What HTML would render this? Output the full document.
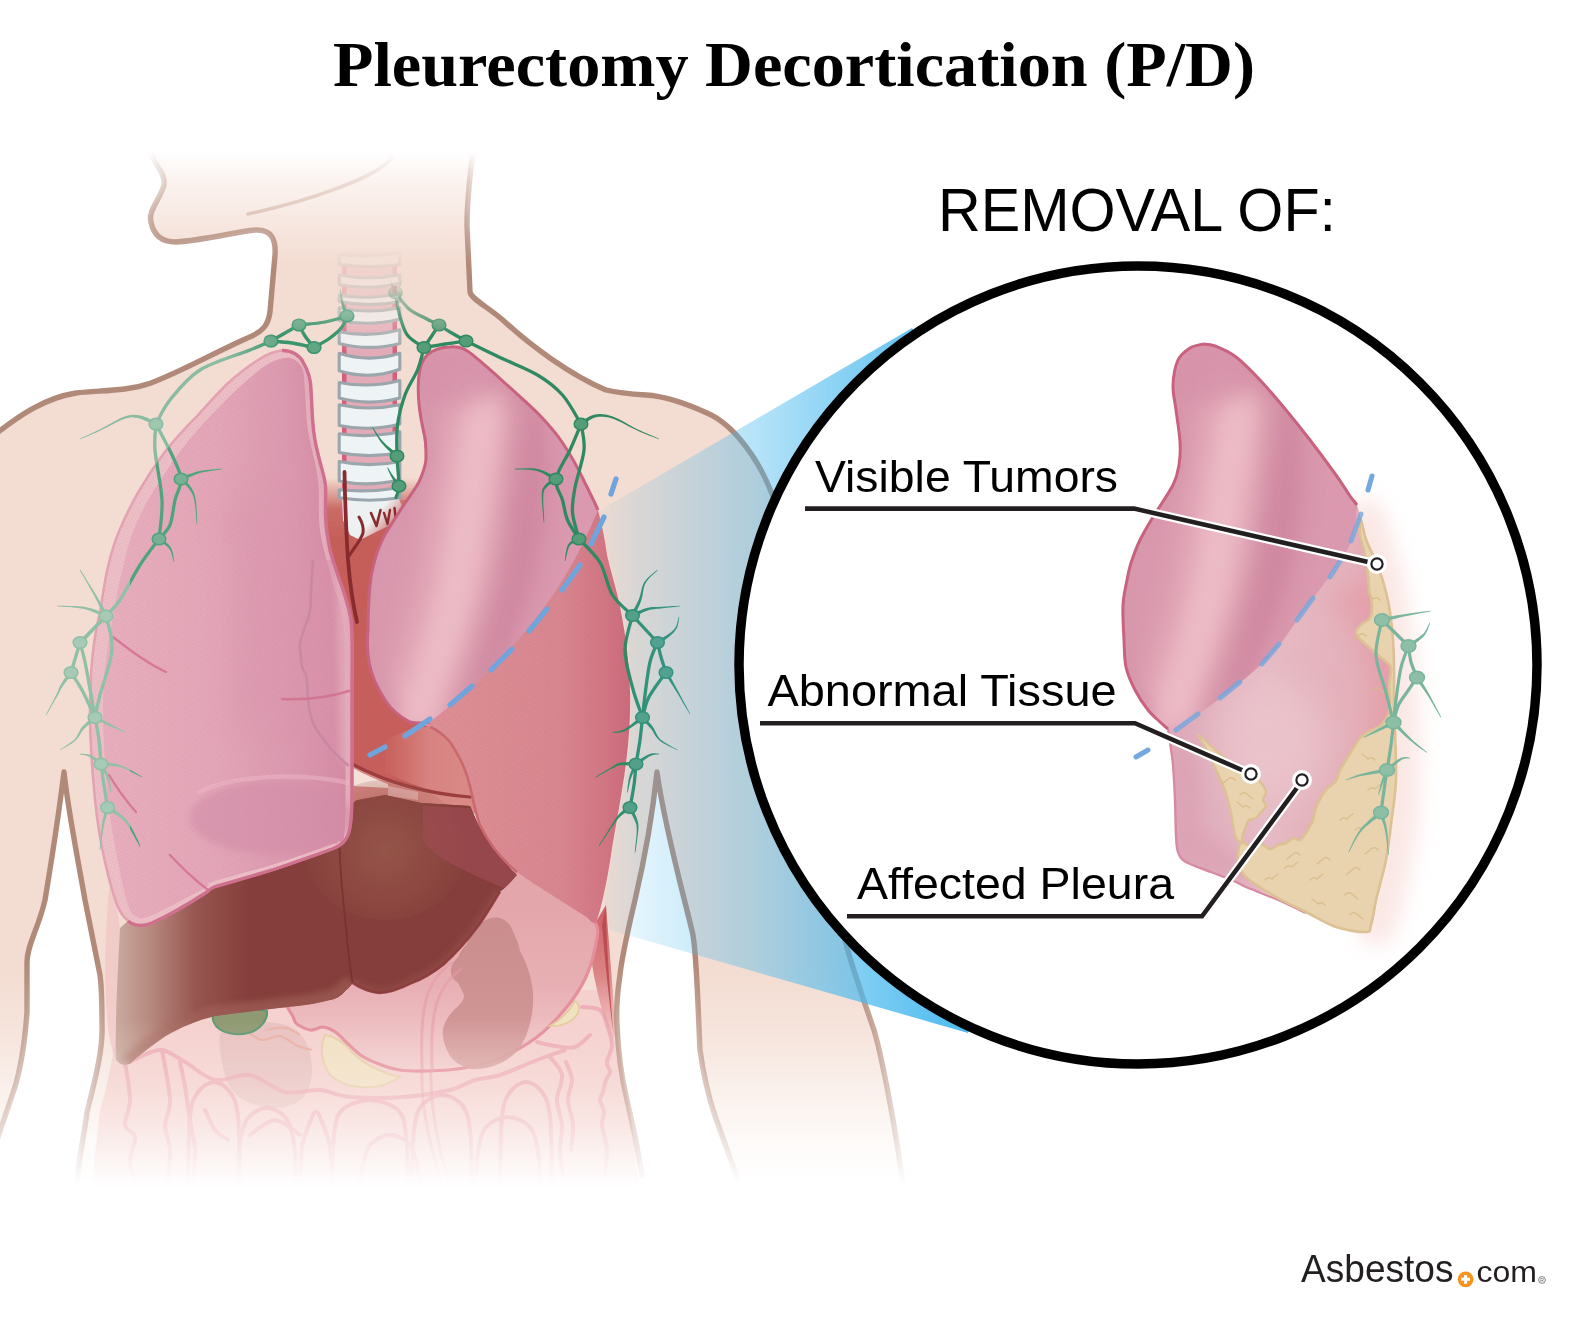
<!DOCTYPE html>
<html>
<head>
<meta charset="utf-8">
<title>Pleurectomy Decortication (P/D)</title>
<style>
html,body{margin:0;padding:0;background:#fff;}
body{width:1585px;height:1334px;overflow:hidden;position:relative;font-family:"Liberation Sans",sans-serif;}
svg{position:absolute;left:0;top:0;display:block;}
text{font-family:"Liberation Sans",sans-serif;}
.ttl{font-family:"Liberation Serif",serif;font-weight:bold;}
</style>
</head>
<body>
<svg width="1585" height="1334" viewBox="0 0 1585 1334">
<defs>
  <!-- body fade mask -->
  <linearGradient id="fadeG" x1="0" y1="0" x2="0" y2="1334" gradientUnits="userSpaceOnUse">
    <stop offset="0.114" stop-color="#000"/>
    <stop offset="0.135" stop-color="#555"/>
    <stop offset="0.200" stop-color="#fff"/>
    <stop offset="0.725" stop-color="#fff"/>
    <stop offset="0.775" stop-color="#bdbdbd"/>
    <stop offset="0.820" stop-color="#666"/>
    <stop offset="0.860" stop-color="#1e1e1e"/>
    <stop offset="0.886" stop-color="#000"/>
  </linearGradient>
  <mask id="fade" maskUnits="userSpaceOnUse" x="0" y="0" width="1585" height="1334">
    <rect x="0" y="0" width="1585" height="1334" fill="url(#fadeG)"/>
  </mask>
  <linearGradient id="fanG" x1="592" y1="0" x2="960" y2="0" gradientUnits="userSpaceOnUse">
    <stop offset="0" stop-color="#49b9ee" stop-opacity="0.02"/>
    <stop offset="0.13" stop-color="#49b9ee" stop-opacity="0.16"/>
    <stop offset="0.45" stop-color="#49b9ee" stop-opacity="0.41"/>
    <stop offset="0.75" stop-color="#49b9ee" stop-opacity="0.72"/>
    <stop offset="1" stop-color="#49b9ee" stop-opacity="0.96"/>
  </linearGradient>
  <clipPath id="insetClip"><circle cx="1138" cy="665" r="396"/></clipPath>

  <filter id="b3" filterUnits="userSpaceOnUse" x="0" y="0" width="1585" height="1334"><feGaussianBlur stdDeviation="3"/></filter>
  <filter id="b6" filterUnits="userSpaceOnUse" x="0" y="0" width="1585" height="1334"><feGaussianBlur stdDeviation="6"/></filter>
  <filter id="b10" filterUnits="userSpaceOnUse" x="0" y="0" width="1585" height="1334"><feGaussianBlur stdDeviation="10"/></filter>
  <filter id="b16" filterUnits="userSpaceOnUse" x="0" y="0" width="1585" height="1334"><feGaussianBlur stdDeviation="16"/></filter>
  <linearGradient id="rlG" x1="110" y1="0" x2="350" y2="0" gradientUnits="userSpaceOnUse">
    <stop offset="0" stop-color="#e7afbd"/>
    <stop offset="0.45" stop-color="#e3a6b8"/>
    <stop offset="0.8" stop-color="#da97ad"/>
    <stop offset="1" stop-color="#d58ca5"/>
  </linearGradient>
  <linearGradient id="llG" x1="400" y1="560" x2="600" y2="470" gradientUnits="userSpaceOnUse">
    <stop offset="0" stop-color="#dba0b2"/>
    <stop offset="0.22" stop-color="#ebb9c4"/>
    <stop offset="0.40" stop-color="#e6afbd"/>
    <stop offset="0.62" stop-color="#d089a1"/>
    <stop offset="0.85" stop-color="#d795aa"/>
    <stop offset="1" stop-color="#dca0b2"/>
  </linearGradient>
  <linearGradient id="lowG" x1="450" y1="0" x2="635" y2="0" gradientUnits="userSpaceOnUse">
    <stop offset="0" stop-color="#dc8f95"/>
    <stop offset="0.6" stop-color="#d88790"/>
    <stop offset="0.85" stop-color="#d17583"/>
    <stop offset="1" stop-color="#c9697a"/>
  </linearGradient>
  <linearGradient id="livG" x1="116" y1="0" x2="250" y2="0" gradientUnits="userSpaceOnUse">
    <stop offset="0" stop-color="#c9aa9f"/>
    <stop offset="0.25" stop-color="#b88a80"/>
    <stop offset="0.6" stop-color="#96554f"/>
    <stop offset="1" stop-color="#853e3b"/>
  </linearGradient>
  <radialGradient id="livC" cx="385" cy="850" r="90" gradientUnits="userSpaceOnUse">
    <stop offset="0" stop-color="#97574a" stop-opacity="0.9"/>
    <stop offset="1" stop-color="#97574a" stop-opacity="0"/>
  </radialGradient>
  <linearGradient id="stoG" x1="0" y1="900" x2="0" y2="1075" gradientUnits="userSpaceOnUse">
    <stop offset="0" stop-color="#e3a6aa"/>
    <stop offset="0.5" stop-color="#e8b0b4"/>
    <stop offset="1" stop-color="#f3cfd1"/>
  </linearGradient>
  <linearGradient id="heartG" x1="390" y1="0" x2="470" y2="0" gradientUnits="userSpaceOnUse">
    <stop offset="0" stop-color="#c9635e"/>
    <stop offset="0.5" stop-color="#d88381"/>
    <stop offset="1" stop-color="#d98a87"/>
  </linearGradient>
  <linearGradient id="medG" x1="0" y1="478" x2="0" y2="540" gradientUnits="userSpaceOnUse">
    <stop offset="0" stop-color="#c55e59" stop-opacity="0"/>
    <stop offset="0.5" stop-color="#c55e59" stop-opacity="0.9"/>
    <stop offset="1" stop-color="#c55e59" stop-opacity="1"/>
  </linearGradient>
  <clipPath id="rlClip"><path d="M282,350.5 C292,350 300,356 303,362 C309,372 311,380 311,390 C312,405 312,415 313,424 C314,440 317,450 319,458 C322,470 325,478 325.6,487 C326,500 325,508 325.6,518 C326,530 328,540 330,550 C333,562 337,572 340,581 C345,595 349,608 351,620 C353,640 352,660 352,687 L352,790 C352,810 351,825 349,832 C346,842 340,846 332,849 C310,857 290,864 275,869 C250,877 230,882 214,887 C211,888 209,890 207,892 C190,903 170,915 152,923 C142,927 134,926 128,921 C121,915 118,908 116,902 C110,885 107,870 105,862 C100,840 97,820 95,800 C92,770 90,740 90,712 C90,670 94,635 100,613 C102,600 104,585 107,571 C110,557 114,543 120,529 C126,515 132,503 139,491 C147,477 155,465 164,453 C174,440 186,427 197.5,415.6 C207,405 217,394 227,384 C237,375 247,367 258,360 C267,354 275,351 282,350.5 Z"/></clipPath>
  <clipPath id="ulClip"><path id="ulPath" d="M450,346.9 C462,346 468,351 472.4,354.7 C485,365 495,374 506,384 C518,395 530,405 540,415.5 C548,424 556,433 562,442 C571,455 579,470 585,483 C590,493 595,503 598,510 C590,530 575,562 555,592 C535,622 510,650 490,670 C470,690 450,706 430,722 C420,724 414,723 410,722 C398,716 390,708 385,700 C376,686 371,674 369,662 C367,650 367,640 368,630 C368,610 369,592 371,577 C373,566 375,558 378,550 C381,542 385,534 389,528 C394,520 400,511 405,503 C411,494 418,486 420.7,478 C424,470 426,464 426,458 C426,451 426,444 425,438 C422,425 420,415 419,404 C418,394 418,384 419,375 C420,366 423,359 427.5,354.7 C434,349 442,347 450,346.9 Z"/></clipPath>

  <linearGradient id="trMG" x1="0" y1="246" x2="0" y2="352" gradientUnits="userSpaceOnUse">
    <stop offset="0" stop-color="#000"/><stop offset="0.2" stop-color="#2a2a2a"/><stop offset="0.45" stop-color="#4a4a4a"/><stop offset="0.7" stop-color="#999"/><stop offset="1" stop-color="#fff"/>
  </linearGradient>
  <mask id="trM" maskUnits="userSpaceOnUse" x="300" y="240" width="140" height="330"><rect x="300" y="240" width="140" height="330" fill="url(#trMG)"/></mask>
  <linearGradient id="trRed" x1="345" y1="500" x2="390" y2="540" gradientUnits="userSpaceOnUse">
    <stop offset="0" stop-color="#c55e59" stop-opacity="0"/><stop offset="0.55" stop-color="#c55e59" stop-opacity="0"/><stop offset="1" stop-color="#c55e59" stop-opacity="1"/>
  </linearGradient>
  <linearGradient id="lyLG" x1="60" y1="0" x2="330" y2="0" gradientUnits="userSpaceOnUse">
    <stop offset="0" stop-color="#5a5a5a"/><stop offset="0.3" stop-color="#777"/><stop offset="0.6" stop-color="#bbb"/><stop offset="1" stop-color="#fff"/>
  </linearGradient>
  <linearGradient id="lyTop" x1="0" y1="278" x2="0" y2="335" gradientUnits="userSpaceOnUse">
    <stop offset="0" stop-color="#000" stop-opacity="1"/><stop offset="0.4" stop-color="#000" stop-opacity="0.6"/><stop offset="1" stop-color="#000" stop-opacity="0"/>
  </linearGradient>
  <mask id="lyL" maskUnits="userSpaceOnUse" x="0" y="250" width="720" height="650"><rect x="0" y="250" width="720" height="650" fill="#585858"/><path d="M282,350.5 C292,350 300,356 303,362 C309,372 311,380 311,390 C312,405 312,415 313,424 C314,440 317,450 319,458 C322,470 325,478 325.6,487 C326,500 325,508 325.6,518 C326,530 328,540 330,550 C333,562 337,572 340,581 C345,595 349,608 351,620 C353,640 352,660 352,687 L352,790 C352,810 351,825 349,832 C346,842 340,846 332,849 C310,857 290,864 275,869 C250,877 230,882 214,887 C211,888 209,890 207,892 C190,903 170,915 152,923 C142,927 134,926 128,921 C121,915 118,908 116,902 C110,885 107,870 105,862 C100,840 97,820 95,800 C92,770 90,740 90,712 C90,670 94,635 100,613 C102,600 104,585 107,571 C110,557 114,543 120,529 C126,515 132,503 139,491 C147,477 155,465 164,453 C174,440 186,427 197.5,415.6 C207,405 217,394 227,384 C237,375 247,367 258,360 C267,354 275,351 282,350.5 Z" fill="#c8c8c8"/><rect x="0" y="575" width="130" height="330" fill="#484848"/><rect x="225" y="290" width="140" height="75" fill="url(#lyNeck)"/><rect x="0" y="250" width="720" height="90" fill="url(#lyTop)"/></mask>
  <mask id="lyR" maskUnits="userSpaceOnUse" x="0" y="250" width="720" height="650"><rect x="0" y="250" width="720" height="650" fill="#fff"/><rect x="0" y="250" width="720" height="90" fill="url(#lyTop)"/></mask>
<!--INDEFS_START-->
  <clipPath id="inUpClip"><path d="M1203.0,344.0 C1198.8,344.3 1194.2,345.3 1190.0,348.0 C1185.8,350.7 1180.8,353.8 1178.0,360.0 C1175.2,366.2 1173.3,376.7 1173.0,385.0 C1172.7,393.3 1174.8,400.5 1176.0,410.0 C1177.2,419.5 1179.5,432.8 1180.0,442.0 C1180.5,451.2 1180.2,457.8 1179.0,465.0 C1177.8,472.2 1177.3,476.3 1173.0,485.0 C1168.7,493.7 1158.5,507.8 1153.0,517.0 C1147.5,526.2 1143.7,532.3 1140.0,540.0 C1136.3,547.7 1133.2,556.3 1131.0,563.0 C1128.8,569.7 1128.3,573.0 1127.0,580.0 C1125.7,587.0 1123.5,595.0 1123.0,605.0 C1122.5,615.0 1123.5,629.7 1124.0,640.0 C1124.5,650.3 1124.2,658.7 1126.0,667.0 C1127.8,675.3 1131.3,682.8 1135.0,690.0 C1138.7,697.2 1143.8,704.7 1148.0,710.0 C1152.2,715.3 1156.7,718.8 1160.0,722.0 C1163.3,725.2 1163.7,729.0 1168.0,729.0 C1172.3,729.0 1176.0,728.2 1186.0,722.0 C1196.0,715.8 1213.8,703.2 1228.0,692.0 C1242.2,680.8 1258.5,668.3 1271.0,655.0 C1283.5,641.7 1292.2,626.7 1303.0,612.0 C1313.8,597.3 1328.0,578.8 1336.0,567.0 C1344.0,555.2 1347.5,551.3 1351.0,541.0 C1354.5,530.7 1357.2,512.5 1357.0,505.0 C1356.8,497.5 1353.5,501.0 1350.0,496.0 C1346.5,491.0 1342.7,484.3 1336.0,475.0 C1329.3,465.7 1318.3,450.8 1310.0,440.0 C1301.7,429.2 1294.3,420.0 1286.0,410.0 C1277.7,400.0 1268.3,388.8 1260.0,380.0 C1251.7,371.2 1243.5,362.7 1236.0,357.0 C1228.5,351.3 1220.5,348.2 1215.0,346.0 C1209.5,343.8 1207.2,343.7 1203.0,344.0 Z"/></clipPath>
  <clipPath id="inLowClip"><path d="M1357.0,505.0 C1359.3,510.7 1361.3,521.7 1364.0,530.0 C1366.7,538.3 1369.7,545.0 1373.0,555.0 C1376.3,565.0 1381.0,578.3 1384.0,590.0 C1387.0,601.7 1389.3,612.5 1391.0,625.0 C1392.7,637.5 1393.3,651.7 1394.0,665.0 C1394.7,678.3 1394.7,692.5 1395.0,705.0 C1395.3,717.5 1395.8,727.5 1396.0,740.0 C1396.2,752.5 1396.7,767.2 1396.0,780.0 C1395.3,792.8 1393.7,803.7 1392.0,817.0 C1390.3,830.3 1388.3,847.0 1386.0,860.0 C1383.7,873.0 1381.0,883.3 1378.0,895.0 C1375.0,906.7 1375.0,924.8 1368.0,930.0 C1361.0,935.2 1346.3,929.2 1336.0,926.0 C1325.7,922.8 1316.0,915.8 1306.0,911.0 C1296.0,906.2 1286.0,901.0 1276.0,897.0 C1266.0,893.0 1252.7,889.5 1246.0,887.0 C1239.3,884.5 1241.8,884.5 1236.0,882.0 C1230.2,879.5 1219.3,875.3 1211.0,872.0 C1202.7,868.7 1191.5,865.3 1186.0,862.0 C1180.5,858.7 1179.7,856.5 1178.0,852.0 C1176.3,847.5 1176.5,843.7 1176.0,835.0 C1175.5,826.3 1175.5,811.7 1175.0,800.0 C1174.5,788.3 1173.8,774.7 1173.0,765.0 C1172.2,755.3 1170.8,748.0 1170.0,742.0 C1169.2,736.0 1169.7,732.3 1168.0,729.0 C1166.3,725.7 1163.3,725.2 1160.0,722.0 C1156.7,718.8 1152.2,715.3 1148.0,710.0 C1143.8,704.7 1138.7,697.2 1135.0,690.0 C1131.3,682.8 1127.8,675.3 1126.0,667.0 C1124.2,658.7 1124.5,650.3 1124.0,640.0 C1123.5,629.7 1122.5,615.0 1123.0,605.0 C1123.5,595.0 1125.7,587.0 1127.0,580.0 C1128.3,573.0 1128.8,569.7 1131.0,563.0 C1133.2,556.3 1136.3,547.7 1140.0,540.0 C1143.7,532.3 1147.5,526.2 1153.0,517.0 C1158.5,507.8 1168.7,493.7 1173.0,485.0 C1177.3,476.3 1177.8,472.2 1179.0,465.0 C1180.2,457.8 1180.5,451.2 1180.0,442.0 C1179.5,432.8 1177.2,419.5 1176.0,410.0 C1174.8,400.5 1172.7,393.3 1173.0,385.0 C1173.3,376.7 1175.2,366.2 1178.0,360.0 C1180.8,353.8 1185.8,350.7 1190.0,348.0 C1194.2,345.3 1198.8,344.3 1203.0,344.0 C1207.2,343.7 1209.5,343.8 1215.0,346.0 C1220.5,348.2 1228.5,351.3 1236.0,357.0 C1243.5,362.7 1251.7,371.2 1260.0,380.0 C1268.3,388.8 1277.7,400.0 1286.0,410.0 C1294.3,420.0 1301.7,429.2 1310.0,440.0 C1318.3,450.8 1329.3,465.7 1336.0,475.0 C1342.7,484.3 1346.5,491.0 1350.0,496.0 C1353.5,501.0 1354.7,499.3 1357.0,505.0 Z"/></clipPath>
  <linearGradient id="inUpG" x1="1150" y1="570" x2="1360" y2="470" gradientUnits="userSpaceOnUse">
    <stop offset="0" stop-color="#dba0b2"/>
    <stop offset="0.22" stop-color="#ebb9c4"/>
    <stop offset="0.42" stop-color="#e3a9b9"/>
    <stop offset="0.62" stop-color="#d089a1"/>
    <stop offset="0.85" stop-color="#d795aa"/>
    <stop offset="1" stop-color="#dca0b2"/>
  </linearGradient>
  <linearGradient id="inLowG" x1="1176" y1="0" x2="1396" y2="0" gradientUnits="userSpaceOnUse">
    <stop offset="0" stop-color="#deaaba"/>
    <stop offset="0.4" stop-color="#e6bbc5"/>
    <stop offset="0.8" stop-color="#e4b0ba"/>
    <stop offset="1" stop-color="#e5a6ae"/>
  </linearGradient>
<!--INDEFS_END-->
  <linearGradient id="fadeOG" x1="0" y1="0" x2="0" y2="1334" gradientUnits="userSpaceOnUse">
    <stop offset="0.114" stop-color="#000"/>
    <stop offset="0.135" stop-color="#555"/>
    <stop offset="0.200" stop-color="#fff"/>
    <stop offset="0.765" stop-color="#fff"/>
    <stop offset="0.815" stop-color="#aaa"/>
    <stop offset="0.855" stop-color="#555"/>
    <stop offset="0.890" stop-color="#000"/>
  </linearGradient>
  <mask id="fadeO" maskUnits="userSpaceOnUse" x="0" y="0" width="1585" height="1334">
    <rect x="0" y="0" width="1585" height="1334" fill="url(#fadeOG)"/>
  </mask>
  <linearGradient id="lyNeck" x1="225" y1="0" x2="280" y2="0" gradientUnits="userSpaceOnUse"><stop offset="0" stop-color="#fff" stop-opacity="0"/><stop offset="1" stop-color="#fff" stop-opacity="1"/></linearGradient>
  <linearGradient id="musG" x1="0" y1="915" x2="0" y2="1040" gradientUnits="userSpaceOnUse"><stop offset="0" stop-color="#cf6468"/><stop offset="0.5" stop-color="#d97c7e" stop-opacity="0.9"/><stop offset="1" stop-color="#e9a9a8" stop-opacity="0.3"/></linearGradient>
  <linearGradient id="splG" x1="0" y1="920" x2="0" y2="1075" gradientUnits="userSpaceOnUse"><stop offset="0" stop-color="#c88a8a"/><stop offset="0.6" stop-color="#cc9090"/><stop offset="1" stop-color="#d8a5a3"/></linearGradient>
  <clipPath id="livClip"><path d="M128,921 C134,926 142,927 152,923 C170,915 190,903 207,892 C209,890 211,888 214,887 C230,882 250,877 275,869 C290,864 310,857 332,849 C340,846 346,842 349,832 L350,812 C351,804 354,801 358,800 L385,795 L421,803 L470,806 L477,822 C488,842 500,858 516.7,875 C511,882 505,888 500,891.5 C492,905 485,917 477,927.6 C467,941 456,953 444.5,963.7 C434,972 423,979 411.7,983 C400,989 389,993 379,993 C369,992 360,988 352.6,983 C350,986 348,989 346,990 C341,996 336,999 330,1000 C319,1003 308,1005 297,1006 C270,1009 242,1012 215,1016 C198,1020 181,1027 165.6,1036 C152,1045 140,1055 129.5,1064 C124,1066 118,1064 116,1059 C115,1015 118,970 120,928 Z"/></clipPath>
  <linearGradient id="fadeLG" x1="0" y1="0" x2="0" y2="1334" gradientUnits="userSpaceOnUse">
    <stop offset="0.114" stop-color="#000"/><stop offset="0.135" stop-color="#555"/><stop offset="0.200" stop-color="#fff"/>
    <stop offset="0.72" stop-color="#fff"/><stop offset="0.80" stop-color="#8a8a8a"/><stop offset="0.85" stop-color="#444"/><stop offset="0.888" stop-color="#000"/>
  </linearGradient>
  <mask id="fadeL" maskUnits="userSpaceOnUse" x="0" y="0" width="1585" height="1334"><rect x="0" y="0" width="1585" height="1334" fill="url(#fadeLG)"/></mask>
  <pattern id="stip" patternUnits="userSpaceOnUse" width="4.6" height="4" patternTransform="rotate(18)"><circle cx="1.2" cy="1.1" r="0.95" fill="#c56f8c" opacity="0.17"/><circle cx="3.5" cy="3.1" r="0.95" fill="#c56f8c" opacity="0.17"/></pattern>
  <pattern id="stip2" patternUnits="userSpaceOnUse" width="4.6" height="4" patternTransform="rotate(18)"><circle cx="1.2" cy="1.1" r="0.95" fill="#b9505e" opacity="0.16"/><circle cx="3.5" cy="3.1" r="0.95" fill="#b9505e" opacity="0.16"/></pattern>
  <clipPath id="lowClip"><path d="M598,510 C602,525 605,540 607,555 C611,572 616,588 618.6,600 C624,625 629,655 630,690 C631,720 628,755 622,790 C618,815 614,835 611,855 C608,875 604,895 600,910 C598,916 597,920 596,923 C594,924 591,922 587,917 C560,900 535,885 517,872 C500,858 488,842 480,825 C476,815 474,805 472,795 C470,786 468,778 465,770 C461,760 456,751 450,742 C444,735 437,730 430,727 L410,722 L385,700 L369,662 L368,630 L371,577 L378,550 L389,528 L405,503 L420.7,478 L426,458 L419,404 L419,375 L427.5,354.7 L450,346.9 L472.4,354.7 L506,384 L540,415.5 L562,442 L585,483 Z"/></clipPath>
<!--DEFS-->
</defs>

<!-- ================= BODY ================= -->
<g id="body">
<g id="skinG" mask="url(#fade)">

<!-- skin silhouette -->
<path id="skin" d="M146,135 C150,165 166,170 164,185 C160,200 148,210 151,222 C154,238 165,242 176,242 C205,240 235,232 255,230 C272,229 276,240 275,255 L270,312 C268,326 262,331 252,336 C215,352 185,370 151,383 C125,392 100,390 76,393 C45,398 20,415 0,431 L0,1334 L910,1334 L905,1200 C895,1120 880,1050 874,1030 C860,990 850,960 845,940 C830,850 815,700 800,600 C790,550 780,510 772,494 C760,462 735,425 707,413 C685,403 665,396 646,395 C630,394 618,393 606,390 C570,375 530,345 505,322 C490,308 472,300 470,292 L467,226 C467,200 470,175 475,135 Z" fill="#f3dcd1"/>
<!-- arm gaps -->
<path d="M64,772 C58,820 50,870 45,900 C38,930 27,945 27,962 L27,1012 C25,1040 20,1070 15,1087 L0,1137 L0,1334 L70,1334 L77,1182 C80,1150 85,1130 87,1112 C95,1080 103,1050 102,1025 C102,1005 102,990 100,975 C95,950 90,925 85,900 C78,860 68,810 64,772 Z" fill="#fff"/>
<path d="M657,772 C652,820 642,870 635,900 C628,930 622,955 620,975 C617,995 616,1010 617,1025 C618,1050 622,1080 627,1100 C633,1125 638,1150 642,1175 L650,1334 L745,1334 L738,1180 C730,1158 722,1135 715,1116 C709,1098 703,1072 700,1050 C698,1010 697,960 693,935 C685,900 665,830 657,772 Z" fill="#fff"/>


</g>
<g id="organsG" mask="url(#fadeO)">
<!-- mediastinum / heart red -->
<path d="M322,478 L330,478 L400,478 L420,478 L405,503 L389,528 L378,550 L371,577 L368,630 L369,662 L385,700 L410,722 L430,727 L456,756 L468,785 L470,800 L352,800 L352,620 L340,581 L330,550 L325,510 Z" fill="url(#medG)"/>
<path d="M352,640 L369,640 L369,662 L385,700 L410,722 L430,727 L456,756 L468,785 L470,800 L352,800 Z" fill="#c65f5b"/>
<!--TRACHEA_START-->
<!-- TRACHEA -->
<g mask="url(#trM)">
<rect x="342" y="252" width="55" height="265" fill="#e3aab8"/>
<rect x="342" y="252" width="4.5" height="265" fill="#d4607e"/>
<rect x="392.5" y="252" width="4.5" height="265" fill="#d4607e"/>
<path d="M342,495 L397,495 L404,510 L397,522 L380,530 L360,540 L350,535 L343,520 Z" fill="#eef1f2"/>
<path d="M339.2,254.8 Q369.5,257.6 399.8,252.8 L399.8,264.4 Q369.5,269.2 339.2,264.4 Z" fill="#eef3f5" stroke="#9aa6ac" stroke-width="3.1" stroke-linejoin="round"/>
<path d="M339.2,274.8 Q369.5,281.2 399.8,274.8 L399.8,282.9 Q369.5,290.8 339.2,284.4 Z" fill="#eef3f5" stroke="#9aa6ac" stroke-width="3.1" stroke-linejoin="round"/>
<path d="M339.2,295.4 Q369.5,299.8 399.8,293.4 L399.8,301.4 Q369.5,307.8 339.2,301.4 Z" fill="#eef3f5" stroke="#9aa6ac" stroke-width="3.1" stroke-linejoin="round"/>
<path d="M339.2,307.8 Q369.5,314.2 399.8,307.8 L399.8,318.9 Q369.5,326.8 339.2,320.4 Z" fill="#eef3f5" stroke="#9aa6ac" stroke-width="3.1" stroke-linejoin="round"/>
<path d="M339.2,331.8 Q369.5,337.8 399.8,329.8 L399.8,343.4 Q369.5,351.4 339.2,343.4 Z" fill="#eef3f5" stroke="#9aa6ac" stroke-width="3.1" stroke-linejoin="round"/>
<path d="M339.2,353.3 Q369.5,362.9 399.8,353.3 L399.8,369.3 Q369.5,380.4 339.2,370.8 Z" fill="#eef3f5" stroke="#9aa6ac" stroke-width="3.1" stroke-linejoin="round"/>
<path d="M339.2,382.5 Q369.5,388.5 399.8,380.5 L399.8,398.1 Q369.5,406.1 339.2,398.1 Z" fill="#eef3f5" stroke="#9aa6ac" stroke-width="3.1" stroke-linejoin="round"/>
<path d="M339.2,404.8 Q369.5,411.2 399.8,404.8 L399.8,423.9 Q369.5,431.8 339.2,425.4 Z" fill="#eef3f5" stroke="#9aa6ac" stroke-width="3.1" stroke-linejoin="round"/>
<path d="M339.2,433.8 Q369.5,438.2 399.8,431.8 L399.8,452.4 Q369.5,458.8 339.2,452.4 Z" fill="#eef3f5" stroke="#9aa6ac" stroke-width="3.1" stroke-linejoin="round"/>
<path d="M339.2,461.4 Q369.5,467.8 399.8,461.4 L399.8,479.5 Q369.5,487.4 339.2,481.0 Z" fill="#eef3f5" stroke="#9aa6ac" stroke-width="3.1" stroke-linejoin="round"/>
<path d="M339.2,489.8 Q369.5,492.6 399.8,487.8 L399.8,497.8 Q369.5,502.6 339.2,497.8 Z" fill="#eef3f5" stroke="#9aa6ac" stroke-width="3.1" stroke-linejoin="round"/>
</g>
<path d="M338,500 L405,500 L405,545 L338,545 Z" fill="url(#trRed)"/>
<g fill="none" stroke="#872b2e" stroke-linecap="round" stroke-linejoin="round">
<path d="M344.5,472 C345,500 346,530 348,560 C350,585 353,605 357,622" stroke-width="3.8"/>
<path d="M349,556 C354,548 361,540 363,533 C364,527 362,522 359,517" stroke-width="3"/>
<path d="M371,513 L376.5,526 L380.5,510" stroke-width="2.6"/>
<path d="M384,513 L387.5,524 L390,510" stroke-width="2.4"/>
<path d="M394.5,508 L396,521" stroke-width="2.4"/>
</g>
<!--TRACHEA_END-->
<!-- heart apex -->
<path d="M385,742 C398,732 415,726 430,727 L440,727 C452,738 460,750 464,756 C470,768 474,778 476,797 C440,795 410,785 385,772 Z" fill="url(#heartG)"/>
<!-- strip under heart -->
<path d="M352,764 C380,778 420,792 478,797 L482,814 L352,806 Z" fill="#d98a85"/>
<path d="M353,768 C365,775 378,780 388,784 L388,788 L353,786 Z" fill="#f5e1d9"/>
<path d="M388,786 L418,792 L418,800 L388,796 Z" fill="#eeb9b8"/>
<path d="M352,764 C380,779 420,793 470,797" fill="none" stroke="#9b3e3d" stroke-width="3.2" stroke-linecap="round"/>


<!--GUT_START-->
<!-- INTESTINES -->
<path d="M118,990 L610,990 C618,1030 620,1070 630,1110 L640,1200 L90,1200 L100,1110 C112,1070 118,1030 118,990 Z" fill="#f5cecd" opacity="0.85"/>
<path d="M222.0,1030.0 C226.7,1023.3 239.5,1022.8 250.0,1022.0 C260.5,1021.2 275.8,1022.0 285.0,1025.0 C294.2,1028.0 300.5,1032.5 305.0,1040.0 C309.5,1047.5 312.0,1060.8 312.0,1070.0 C312.0,1079.2 309.5,1088.8 305.0,1095.0 C300.5,1101.2 293.3,1105.3 285.0,1107.0 C276.7,1108.7 263.8,1107.8 255.0,1105.0 C246.2,1102.2 237.5,1097.2 232.0,1090.0 C226.5,1082.8 223.7,1072.0 222.0,1062.0 C220.3,1052.0 217.3,1036.7 222.0,1030.0 Z" fill="#dbb4b2" opacity="0.5"/>
<g fill="none" stroke="#ecA4b0" stroke-width="4" stroke-linecap="round" opacity="0.75">
<path d="M130.0,1062.0 C135.0,1060.0 150.8,1050.0 160.0,1050.0 C169.2,1050.0 175.8,1057.0 185.0,1062.0 C194.2,1067.0 204.2,1077.8 215.0,1080.0 C225.8,1082.2 238.3,1073.0 250.0,1075.0 C261.7,1077.0 273.3,1089.5 285.0,1092.0 C296.7,1094.5 309.2,1089.2 320.0,1090.0 C330.8,1090.8 335.8,1095.8 350.0,1097.0 C364.2,1098.2 388.3,1098.2 405.0,1097.0 C421.7,1095.8 438.3,1092.8 450.0,1090.0 C461.7,1087.2 466.7,1082.5 475.0,1080.0 C483.3,1077.5 489.7,1078.3 500.0,1075.0 C510.3,1071.7 526.2,1064.2 537.0,1060.0 C547.8,1055.8 560.3,1051.7 565.0,1050.0"/>
<path d="M537.0,1042.0 C540.0,1042.7 548.7,1045.2 555.0,1046.0 C561.3,1046.8 569.2,1048.8 575.0,1047.0 C580.8,1045.2 587.5,1037.0 590.0,1035.0"/>
<path d="M582.0,1007.0 C585.0,1007.5 595.8,1007.0 600.0,1010.0 C604.2,1013.0 605.0,1019.2 607.0,1025.0 C609.0,1030.8 612.0,1038.8 612.0,1045.0 C612.0,1051.2 607.3,1057.5 607.0,1062.0 C606.7,1066.5 610.2,1069.0 610.0,1072.0 C609.8,1075.0 607.2,1076.7 606.0,1080.0 C604.8,1083.3 604.0,1088.7 603.0,1092.0 C602.0,1095.3 599.8,1096.7 600.0,1100.0 C600.2,1103.3 603.7,1107.8 604.0,1112.0 C604.3,1116.2 601.5,1118.7 602.0,1125.0 C602.5,1131.3 606.5,1141.7 607.0,1150.0 C607.5,1158.3 605.3,1170.8 605.0,1175.0"/>
<path d="M550.0,1057.0 C552.0,1060.0 560.8,1067.8 562.0,1075.0 C563.2,1082.2 557.0,1091.7 557.0,1100.0 C557.0,1108.3 561.5,1116.7 562.0,1125.0 C562.5,1133.3 559.8,1141.7 560.0,1150.0 C560.2,1158.3 562.5,1170.8 563.0,1175.0"/>
<path d="M566.0,1062.0 C567.0,1065.0 571.7,1073.7 572.0,1080.0 C572.3,1086.3 567.8,1092.5 568.0,1100.0 C568.2,1107.5 572.5,1116.7 573.0,1125.0 C573.5,1133.3 571.3,1145.8 571.0,1150.0"/>
<path d="M125.0,1062.0 C125.8,1068.3 130.0,1089.5 130.0,1100.0 C130.0,1110.5 124.2,1118.8 125.0,1125.0 C125.8,1131.2 134.2,1131.2 135.0,1137.0 C135.8,1142.8 130.2,1152.8 130.0,1160.0 C129.8,1167.2 133.3,1176.7 134.0,1180.0"/>
<path d="M162.0,1050.0 C163.3,1058.3 169.5,1087.5 170.0,1100.0 C170.5,1112.5 165.0,1116.7 165.0,1125.0 C165.0,1133.3 169.5,1140.8 170.0,1150.0 C170.5,1159.2 168.3,1175.0 168.0,1180.0"/>
<path d="M180.0,1062.0 C180.8,1066.2 183.3,1077.3 185.0,1087.0 C186.7,1096.7 188.3,1109.5 190.0,1120.0 C191.7,1130.5 194.5,1140.0 195.0,1150.0 C195.5,1160.0 193.3,1175.0 193.0,1180.0"/>
<path d="M188.0,1185.0 C188.3,1173.7 188.3,1132.5 190.0,1117.0 C191.7,1101.5 194.0,1097.8 198.0,1092.0 C202.0,1086.2 208.7,1082.0 214.0,1082.0 C219.3,1082.0 226.0,1086.2 230.0,1092.0 C234.0,1097.8 236.3,1101.5 238.0,1117.0 C239.7,1132.5 239.7,1173.7 240.0,1185.0"/>
<path d="M238.0,1185.0 C238.3,1178.0 238.3,1154.2 240.0,1143.0 C241.7,1131.8 243.5,1123.8 248.0,1118.0 C252.5,1112.2 260.7,1108.0 267.0,1108.0 C273.3,1108.0 281.5,1112.2 286.0,1118.0 C290.5,1123.8 292.3,1131.8 294.0,1143.0 C295.7,1154.2 295.7,1178.0 296.0,1185.0"/>
<path d="M300.0,1185.0 C300.3,1178.7 300.3,1157.5 302.0,1147.0 C303.7,1136.5 307.7,1127.8 310.0,1122.0 C312.3,1116.2 314.0,1112.0 316.0,1112.0 C318.0,1112.0 319.7,1116.2 322.0,1122.0 C324.3,1127.8 328.3,1136.5 330.0,1147.0 C331.7,1157.5 331.7,1178.7 332.0,1185.0"/>
<path d="M332.0,1185.0 C332.3,1176.7 332.3,1147.5 334.0,1135.0 C335.7,1122.5 336.0,1115.8 342.0,1110.0 C348.0,1104.2 360.7,1100.0 370.0,1100.0 C379.3,1100.0 392.0,1104.2 398.0,1110.0 C404.0,1115.8 404.3,1122.5 406.0,1135.0 C407.7,1147.5 407.7,1176.7 408.0,1185.0"/>
<path d="M412.0,1185.0 C412.3,1175.8 412.3,1143.3 414.0,1130.0 C415.7,1116.7 417.3,1110.8 422.0,1105.0 C426.7,1099.2 435.3,1095.0 442.0,1095.0 C448.7,1095.0 457.3,1099.2 462.0,1105.0 C466.7,1110.8 468.3,1116.7 470.0,1130.0 C471.7,1143.3 471.7,1175.8 472.0,1185.0"/>
<path d="M476.0,1185.0 C476.3,1179.5 476.3,1161.7 478.0,1152.0 C479.7,1142.3 481.0,1132.8 486.0,1127.0 C491.0,1121.2 500.7,1117.0 508.0,1117.0 C515.3,1117.0 525.0,1121.2 530.0,1127.0 C535.0,1132.8 536.3,1142.3 538.0,1152.0 C539.7,1161.7 539.7,1179.5 540.0,1185.0"/>
<path d="M360.0,1185.0 C360.3,1182.5 360.3,1176.7 362.0,1170.0 C363.7,1163.3 365.3,1150.8 370.0,1145.0 C374.7,1139.2 383.3,1135.0 390.0,1135.0 C396.7,1135.0 405.3,1139.2 410.0,1145.0 C414.7,1150.8 416.3,1163.3 418.0,1170.0 C419.7,1176.7 419.7,1182.5 420.0,1185.0"/>
<path d="M500.0,1185.0 C500.3,1173.7 500.3,1132.5 502.0,1117.0 C503.7,1101.5 506.0,1097.8 510.0,1092.0 C514.0,1086.2 520.7,1082.0 526.0,1082.0 C531.3,1082.0 538.0,1086.2 542.0,1092.0 C546.0,1097.8 548.3,1101.5 550.0,1117.0 C551.7,1132.5 551.7,1173.7 552.0,1185.0"/>
<path d="M250.0,1135.0 C254.2,1132.5 266.7,1120.0 275.0,1120.0 C283.3,1120.0 295.8,1132.5 300.0,1135.0"/>
<path d="M205.0,1110.0 C206.7,1113.3 211.2,1125.0 215.0,1130.0 C218.8,1135.0 225.8,1138.3 228.0,1140.0"/>
</g>
<g fill="none" stroke="#e8a2ac" stroke-width="3" opacity="0.5">
<path d="M445.0,975.0 C442.8,976.7 435.5,979.2 432.0,985.0 C428.5,990.8 425.7,999.2 424.0,1010.0 C422.3,1020.8 422.2,1035.0 422.0,1050.0 C421.8,1065.0 421.3,1083.3 423.0,1100.0 C424.7,1116.7 428.8,1135.8 432.0,1150.0 C435.2,1164.2 440.3,1179.2 442.0,1185.0"/>
<path d="M456.0,978.0 C453.7,980.0 445.7,983.8 442.0,990.0 C438.3,996.2 435.8,1005.0 434.0,1015.0 C432.2,1025.0 431.3,1035.8 431.0,1050.0 C430.7,1064.2 430.5,1083.3 432.0,1100.0 C433.5,1116.7 437.0,1135.8 440.0,1150.0 C443.0,1164.2 448.3,1179.2 450.0,1185.0"/>
</g>
<path d="M248.0,1032.0 C250.3,1033.3 256.7,1039.3 262.0,1040.0 C267.3,1040.7 274.0,1035.0 280.0,1036.0 C286.0,1037.0 292.7,1043.7 298.0,1046.0 C303.3,1048.3 309.7,1049.3 312.0,1050.0" fill="none" stroke="#e9a796" stroke-width="2" opacity="0.7"/>
<path d="M265.0,1030.0 C268.3,1029.7 279.2,1027.2 285.0,1028.0 C290.8,1028.8 297.5,1033.8 300.0,1035.0" fill="none" stroke="#e9a796" stroke-width="2" opacity="0.6"/>
<!--GUT_END-->
<!-- muscle strip -->
<path d="M594,925 L606,905 C609,945 613,990 616,1035 L612,1040 C604,1020 596,990 592,964 Z" fill="url(#musG)"/><path d="M605.5,907 C607,950 610,995 613.5,1034 C609,1000 605,960 602,925 Z" fill="#b9494e" opacity="0.9"/>

<!-- STOMACH -->
<path d="M517.0,872.0 C527.8,870.0 535.3,882.0 545.0,888.0 C554.7,894.0 566.5,902.0 575.0,908.0 C583.5,914.0 592.7,917.3 596.0,924.0 C599.3,930.7 596.8,938.8 595.0,948.0 C593.2,957.2 589.8,969.0 585.0,979.0 C580.2,989.0 574.0,998.3 566.0,1008.0 C558.0,1017.7 548.0,1028.7 537.0,1037.0 C526.0,1045.3 512.2,1052.8 500.0,1058.0 C487.8,1063.2 476.0,1065.8 464.0,1068.0 C452.0,1070.2 438.7,1070.7 428.0,1071.0 C417.3,1071.3 408.2,1071.2 400.0,1070.0 C391.8,1068.8 385.3,1066.3 379.0,1064.0 C372.7,1061.7 367.2,1059.3 362.0,1056.0 C356.8,1052.7 352.0,1047.7 348.0,1044.0 C344.0,1040.3 341.0,1036.5 338.0,1034.0 C335.0,1031.5 332.7,1030.2 330.0,1029.0 C327.3,1027.8 324.3,1027.0 322.0,1027.0 C319.7,1027.0 318.0,1028.5 316.0,1029.0 C314.0,1029.5 312.3,1030.3 310.0,1030.0 C307.7,1029.7 304.7,1028.8 302.0,1027.0 C299.3,1025.2 295.3,1025.2 294.0,1019.0 C292.7,1012.8 276.3,999.8 294.0,990.0 C311.7,980.2 369.0,975.0 400.0,960.0 C431.0,945.0 460.5,914.7 480.0,900.0 C499.5,885.3 506.2,874.0 517.0,872.0 Z" fill="url(#stoG)" stroke="#e58f9c" stroke-width="3.2" stroke-linejoin="round"/>
<!-- SPLEEN -->
<path d="M467,944 C474,922 496,908 510,925 C516,938 519,944 520,951 C527,964 532,978 533,993 C534,1008 531,1023 526,1036 C521,1048 513,1057 503,1062 C493,1067 481,1070 471,1069 C460,1066 451,1060 448,1052 C444,1044 442,1036 443,1029 C445,1021 449,1015 454,1010 C459,1005 464,1001 464,996 C463,991 460,987 458,983 C454,980 451,977 451,973 C450,967 453,962 458,957 C460,952 463,948 467,944 Z" fill="url(#splG)" opacity="0.9"/>
<!-- tube over stomach -->
<g fill="none" stroke="#e59aa6" stroke-width="3" opacity="0.55">
<path d="M452.0,962.0 C449.3,964.7 440.3,971.7 436.0,978.0 C431.7,984.3 428.3,991.3 426.0,1000.0 C423.7,1008.7 422.7,1018.3 422.0,1030.0 C421.3,1041.7 422.0,1063.3 422.0,1070.0"/>
<path d="M462.0,968.0 C459.3,970.7 450.3,977.7 446.0,984.0 C441.7,990.3 438.3,997.5 436.0,1006.0 C433.7,1014.5 432.7,1024.0 432.0,1035.0 C431.3,1046.0 432.0,1065.8 432.0,1072.0"/>
</g>
<!-- pancreas (yellow) -->
<path d="M325,1035 C335,1036 345,1044 352,1052 C365,1065 382,1073 400,1077 C390,1084 376,1088 362,1087 C350,1087 338,1082 330,1075 C325,1068 322,1059 322,1050 C322,1044 323,1039 325,1035 Z" fill="#f1e1c4" stroke="#e6cfa8" stroke-width="2"/>
<path d="M550,1026 C560,1020 570,1010 575,1001 C579,1003 580,1008 578,1013 C573,1022 562,1027 550,1026 Z" fill="#f0e2c0" stroke="#e0cc9c" stroke-width="1.6"/>
<!-- GALLBLADDER -->
<path d="M213,1014 C225,1010 250,1007 267,1011 C268,1020 260,1030 248,1033 C236,1036 222,1033 216,1026 C213,1022 212,1018 213,1014 Z" fill="#8f9a73" stroke="#5d9a73" stroke-width="2"/>
<path d="M110,880 C106,920 104,960 106,1000 C107,1030 111,1050 116,1060 L120,928 L116,902 Z" fill="#eec0c2" opacity="0.6"/>
<!-- LIVER -->
<path d="M128,921 C134,926 142,927 152,923 C170,915 190,903 207,892 C209,890 211,888 214,887 C230,882 250,877 275,869 C290,864 310,857 332,849 C340,846 346,842 349,832 L350,812 C351,804 354,801 358,800 L385,795 L421,803 L470,806 L477,822 C488,842 500,858 516.7,875 C511,882 505,888 500,891.5 C492,905 485,917 477,927.6 C467,941 456,953 444.5,963.7 C434,972 423,979 411.7,983 C400,989 389,993 379,993 C369,992 360,988 352.6,983 C350,986 348,989 346,990 C341,996 336,999 330,1000 C319,1003 308,1005 297,1006 C270,1009 242,1012 215,1016 C198,1020 181,1027 165.6,1036 C152,1045 140,1055 129.5,1064 C124,1066 118,1064 116,1059 C115,1015 118,970 120,928 Z" fill="url(#livG)"/>
<path d="M330,849 L349,832 L350,812 C351,804 354,801 358,800 L385,795 L421,803 L470,806 L477,822 C488,842 500,858 516.7,875 C511,882 505,888 500,891.5 C492,905 485,917 477,927.6 C467,941 456,953 444.5,963.7 C434,972 423,979 411.7,983 C400,989 389,993 379,993 C369,992 360,988 352.6,983 C350,986 348,989 346,990 C341,996 336,999 330,1000 Z" fill="#853e3b"/>
<ellipse cx="385" cy="850" rx="80" ry="70" fill="url(#livC)"/>
<g clip-path="url(#livClip)"><path d="M352.6,983 C350,986 348,989 346,990 C341,996 336,999 330,1000 C319,1003 308,1005 297,1006 C270,1009 242,1012 215,1016 C198,1020 181,1027 165.6,1036 C152,1045 140,1055 129.5,1064" fill="none" stroke="#a5675f" stroke-width="20" opacity="0.55" filter="url(#b3)"/>
<path d="M352.6,983 C360,988 369,992 379,993 C389,993 400,989 411.7,983 C423,979 434,972 444.5,963.7 C456,953 467,941 477,927.6 C485,917 492,905 500,891.5" fill="none" stroke="#9a5350" stroke-width="12" opacity="0.5" filter="url(#b3)"/></g>

<path d="M423,806 L470,808 L477,822 C488,842 500,858 516.7,875 C511,882 505,888 503.5,888 C488,882 472,874 461,868.6 C445,861 430,852 423,840 Z" fill="#9c4b52" opacity="0.75"/>
<path d="M339.5,845.6 C340,870 343,900 346,927.6 C348,950 350,968 352.6,983" fill="none" stroke="#76302f" stroke-width="1.8" opacity="0.8"/>
<path d="M352.6,983 C360,988 369,992 379,993 C389,993 400,989 411.7,983 C423,979 434,972 444.5,963.7 C456,953 467,941 477,927.6 C485,917 492,905 500,891.5" fill="none" stroke="#8c3b3b" stroke-width="2.5" opacity="0.9"/>

<!-- LEFT LUNG (image right): whole lung, affected pleura colour -->
<path d="M598,510 C602,525 605,540 607,555 C611,572 616,588 618.6,600 C624,625 629,655 630,690 C631,720 628,755 622,790 C618,815 614,835 611,855 C608,875 604,895 600,910 C598,916 597,920 596,923 C594,924 591,922 587,917 C560,900 535,885 517,872 C500,858 488,842 480,825 C476,815 474,805 472,795 C470,786 468,778 465,770 C461,760 456,751 450,742 C444,735 437,730 430,727 L410,722 L385,700 L369,662 L368,630 L371,577 L378,550 L389,528 L405,503 L420.7,478 L426,458 L419,404 L419,375 L427.5,354.7 L450,346.9 L472.4,354.7 L506,384 L540,415.5 L562,442 L585,483 Z" fill="url(#lowG)"/>
<rect x="360" y="340" width="280" height="590" fill="url(#stip2)" clip-path="url(#lowClip)"/>
<path d="M430,727 C437,730 444,735 450,742 C456,751 461,760 465,770 C468,778 470,786 472,795 C474,805 476,815 480,825 C488,842 500,858 517,872" fill="none" stroke="#c9696f" stroke-width="2.6"/>
<!-- upper lobe -->
<g clip-path="url(#ulClip)">
  <rect x="360" y="340" width="260" height="400" fill="#da99ae"/>
  <path d="M508.0,385.0 C510.3,392.5 519.3,410.8 522.0,430.0 C524.7,449.2 526.0,475.0 524.0,500.0 C522.0,525.0 517.0,555.0 510.0,580.0 C503.0,605.0 491.7,630.0 482.0,650.0 C472.3,670.0 457.0,691.7 452.0,700.0" fill="none" stroke="#cd859e" stroke-width="48" stroke-linecap="round" opacity="0.8" filter="url(#b10)"/>
  <path d="M484.0,410.0 C483.0,416.7 480.3,435.0 478.0,450.0 C475.7,465.0 473.3,478.3 470.0,500.0 C466.7,521.7 463.0,555.0 458.0,580.0 C453.0,605.0 446.7,627.5 440.0,650.0 C433.3,672.5 421.7,704.2 418.0,715.0" fill="none" stroke="#ecbbc5" stroke-width="56" stroke-linecap="round" opacity="0.9" filter="url(#b16)"/>
  <path d="M484.0,410.0 C483.0,416.7 480.3,435.0 478.0,450.0 C475.7,465.0 473.3,478.3 470.0,500.0 C466.7,521.7 463.0,555.0 458.0,580.0 C453.0,605.0 446.7,627.5 440.0,650.0 C433.3,672.5 421.7,704.2 418.0,715.0" fill="none" stroke="#eebfc8" stroke-width="22" stroke-linecap="round" opacity="0.7" filter="url(#b10)"/>
  <path d="M423.0,360.0 C422.8,370.0 421.5,403.3 422.0,420.0 C422.5,436.7 428.8,445.8 426.0,460.0 C423.2,474.2 412.7,489.7 405.0,505.0 C397.3,520.3 385.7,536.2 380.0,552.0 C374.3,567.8 372.5,582.0 371.0,600.0 C369.5,618.0 367.0,640.8 371.0,660.0 C375.0,679.2 391.0,705.8 395.0,715.0" fill="none" stroke="#d596ab" stroke-width="14" opacity="0.65" filter="url(#b6)"/>
  <ellipse cx="455" cy="375" rx="45" ry="30" fill="#d590a8" opacity="0.6" filter="url(#b10)"/>
</g>
<path d="M598,510 C595,503 590,493 585,483 C579,470 571,455 562,442 C556,433 548,424 540,415.5 C530,405 518,395 506,384 C495,374 485,365 472.4,354.7 C468,351 462,346 450,346.9 C442,347 434,349 427.5,354.7 C423,359 420,366 419,375 C418,384 418,394 419,404 C420,415 422,425 425,438 C426,444 426,451 426,458 C426,464 424,470 420.7,478 C418,486 411,494 405,503 C400,511 394,520 389,528 C385,534 381,542 378,550 C375,558 373,566 371,577 C369,592 368,610 368,630 C367,640 367,650 369,662 C371,674 376,686 385,700 C390,708 398,716 410,722 C414,723 420,724 430,722" fill="none" stroke="#c8627f" stroke-width="3"/>

<!-- RIGHT LUNG (image left) -->
<path d="M282,350.5 C292,350 300,356 303,362 C309,372 311,380 311,390 C312,405 312,415 313,424 C314,440 317,450 319,458 C322,470 325,478 325.6,487 C326,500 325,508 325.6,518 C326,530 328,540 330,550 C333,562 337,572 340,581 C345,595 349,608 351,620 C353,640 352,660 352,687 L352,790 C352,810 351,825 349,832 C346,842 340,846 332,849 C310,857 290,864 275,869 C250,877 230,882 214,887 C211,888 209,890 207,892 C190,903 170,915 152,923 C142,927 134,926 128,921 C121,915 118,908 116,902 C110,885 107,870 105,862 C100,840 97,820 95,800 C92,770 90,740 90,712 C90,670 94,635 100,613 C102,600 104,585 107,571 C110,557 114,543 120,529 C126,515 132,503 139,491 C147,477 155,465 164,453 C174,440 186,427 197.5,415.6 C207,405 217,394 227,384 C237,375 247,367 258,360 C267,354 275,351 282,350.5 Z" fill="#ecc0c6" stroke="#e4a3b3" stroke-width="2.5"/>
<g clip-path="url(#rlClip)">
  <path d="M290.0,358.0 C295.0,359.0 299.5,362.7 302.0,368.0 C304.5,373.3 304.0,379.7 305.0,390.0 C306.0,400.3 305.8,415.0 308.0,430.0 C310.2,445.0 316.0,463.3 318.0,480.0 C320.0,496.7 317.7,513.3 320.0,530.0 C322.3,546.7 328.2,565.0 332.0,580.0 C335.8,595.0 340.8,601.7 343.0,620.0 C345.2,638.3 344.7,655.8 345.0,690.0 C345.3,724.2 346.2,799.7 345.0,825.0 C343.8,850.3 340.5,838.7 338.0,842.0 C335.5,845.3 340.5,841.3 330.0,845.0 C319.5,848.7 294.7,857.8 275.0,864.0 C255.3,870.2 223.7,878.0 212.0,882.0 C200.3,886.0 215.3,882.3 205.0,888.0 C194.7,893.7 161.5,911.3 150.0,916.0 C138.5,920.7 139.7,917.8 136.0,916.0 C132.3,914.2 131.0,914.0 128.0,905.0 C125.0,896.0 121.3,879.5 118.0,862.0 C114.7,844.5 110.5,825.0 108.0,800.0 C105.5,775.0 103.3,735.3 103.0,712.0 C102.7,688.7 104.2,676.5 106.0,660.0 C107.8,643.5 110.9,627.8 113.6,613.0 C116.3,598.2 118.8,584.3 122.0,571.0 C125.2,557.7 127.7,545.7 132.5,533.0 C137.3,520.3 142.2,509.7 151.0,495.0 C159.8,480.3 173.0,460.3 185.0,445.0 C197.0,429.7 211.8,414.5 223.0,403.0 C234.2,391.5 243.8,382.8 252.0,376.0 C260.2,369.2 265.7,365.0 272.0,362.0 C278.3,359.0 285.0,357.0 290.0,358.0 Z" fill="url(#rlG)"/>
  <path d="M300,360 C312,420 318,480 322,540 C330,600 345,640 345,700 L345,830 L380,830 L380,350 Z" fill="#d48aa4" opacity="0.55" filter="url(#b10)"/>
  <path d="M240,500 C270,560 260,640 250,720" fill="none" stroke="#d992aa" stroke-width="40" opacity="0.35" filter="url(#b16)"/>
  <!-- diaphragm dome -->
  <ellipse cx="272" cy="818" rx="82" ry="36" fill="#d38ea8" opacity="0.6" filter="url(#b3)"/>
  <path d="M197,793 C230,775 300,772 349,783" fill="none" stroke="#edb8c6" stroke-width="4.5" opacity="0.55"/>
  <!-- medial lobe -->
  <path d="M313.0,560.0 C312.7,565.0 311.5,581.5 311.0,590.0 C310.5,598.5 311.2,604.3 310.0,611.0 C308.8,617.7 305.7,624.5 304.0,630.0 C302.3,635.5 300.5,639.7 300.0,644.0 C299.5,648.3 300.7,652.2 301.0,656.0 C301.3,659.8 301.2,663.8 302.0,667.0 C302.8,670.2 305.2,672.5 306.0,675.0 C306.8,677.5 306.7,678.3 307.0,682.0 C307.3,685.7 307.5,691.8 308.0,697.0 C308.5,702.2 308.8,708.0 310.0,713.0 C311.2,718.0 312.9,722.8 315.0,727.0 C317.1,731.2 319.9,734.2 322.7,738.0 C325.5,741.8 328.6,746.2 332.0,750.0 C335.4,753.8 340.2,758.3 343.0,761.0 C345.8,763.7 346.8,765.2 349.0,766.0 C351.2,766.8 354.8,800.3 356.0,766.0 C357.2,731.7 356.0,594.3 356.0,560.0 Z" fill="#da94ab" opacity="0.5"/>
  <path d="M335,560 L352,560 L352,770 L340,760 C338,700 338,640 335,560 Z" fill="#ebbcc6" opacity="0.5" filter="url(#b3)"/>
  <path d="M313.0,560.0 C312.7,565.0 311.5,581.5 311.0,590.0 C310.5,598.5 311.2,604.3 310.0,611.0 C308.8,617.7 305.7,624.5 304.0,630.0 C302.3,635.5 300.5,639.7 300.0,644.0 C299.5,648.3 300.7,652.2 301.0,656.0 C301.3,659.8 301.2,663.8 302.0,667.0 C302.8,670.2 305.2,672.5 306.0,675.0 C306.8,677.5 306.7,678.3 307.0,682.0 C307.3,685.7 307.5,691.8 308.0,697.0 C308.5,702.2 308.8,708.0 310.0,713.0 C311.2,718.0 312.9,722.8 315.0,727.0 C317.1,731.2 319.9,734.2 322.7,738.0 C325.5,741.8 328.6,746.2 332.0,750.0 C335.4,753.8 340.2,758.3 343.0,761.0 C345.8,763.7 348.0,765.2 349.0,766.0" fill="none" stroke="#c688a2" stroke-width="2.6" opacity="0.9"/>
  <rect x="85" y="345" width="275" height="590" fill="url(#stip)"/>
</g>
<!-- fissures -->
<g fill="none" stroke="#d4708f" stroke-width="2.4" stroke-linecap="round" opacity="0.85">
  <path d="M282,699 C305,700 330,697 349,691"/>
  <path d="M113,637 C130,650 148,664 166,672"/>
  <path d="M109,775 C118,790 127,802 136,812"/>
  <path d="M170,855 C182,868 195,880 208,890"/>
</g>
<!-- medial & bottom edge -->
<path d="M282,350.5 C292,350 300,356 303,362 C309,372 311,380 311,390 C312,405 312,415 313,424 C314,440 317,450 319,458 C322,470 325,478 325.6,487 C326,500 325,508 325.6,518 C326,530 328,540 330,550 C333,562 337,572 340,581 C345,595 349,608 351,620 C353,640 352,660 352,687 L352,790 C352,810 351,825 349,832 C346,842 340,846 332,849 C310,857 290,864 275,869 C250,877 230,882 214,887 C211,888 209,890 207,892 C190,903 170,915 152,923 C142,927 134,926 128,921" fill="none" stroke="#d0708f" stroke-width="3.4" stroke-linejoin="round"/>
<!--LYMPH_START-->
<!-- LYMPH -->
<g fill="none" stroke="#b3d1bd" stroke-linecap="round" stroke-linejoin="round" mask="url(#lyR)">
<g stroke-width="3.3">
<path d="M347.0,316.0 C343.3,317.0 333.0,320.5 325.0,322.0 C317.0,323.5 303.3,324.5 299.0,325.0"/>
<path d="M299.0,325.0 L271.0,341.0"/>
<path d="M271.0,341.0 C274.5,341.3 284.8,341.9 292.0,343.0 C299.2,344.1 310.3,346.8 314.0,347.5"/>
<path d="M299.0,325.0 C300.0,326.8 302.5,332.2 305.0,336.0 C307.5,339.8 312.5,345.6 314.0,347.5"/>
<path d="M314.0,347.5 C316.7,345.9 325.3,341.4 330.0,338.0 C334.7,334.6 339.2,330.7 342.0,327.0 C344.8,323.3 346.2,317.8 347.0,316.0"/>
<path d="M271.0,341.0 C267.5,342.5 261.8,345.2 250.0,350.0 C238.2,354.8 213.3,361.7 200.0,370.0 C186.7,378.3 177.3,391.0 170.0,400.0 C162.7,409.0 158.3,420.0 156.0,424.0"/>
<path d="M156.0,424.0 C155.8,428.3 154.0,437.3 155.0,450.0 C156.0,462.7 161.3,485.2 162.0,500.0 C162.7,514.8 159.5,532.5 159.0,539.0"/>
<path d="M156.0,424.0 C158.7,429.2 167.8,445.8 172.0,455.0 C176.2,464.2 180.5,471.5 181.0,479.0 C181.5,486.5 176.8,492.3 175.0,500.0 C173.2,507.7 172.7,518.5 170.0,525.0 C167.3,531.5 160.8,536.7 159.0,539.0"/>
<path d="M159.0,539.0 C155.8,543.3 146.5,554.8 140.0,565.0 C133.5,575.2 125.7,591.5 120.0,600.0 C114.3,608.5 108.3,613.3 106.0,616.0"/>
<path d="M106.0,616.0 L80.0,642.5"/>
<path d="M80.0,642.5 L71.0,672.5"/>
<path d="M106.0,616.0 C107.0,621.7 113.0,636.8 112.0,650.0 C111.0,663.2 102.8,683.8 100.0,695.0 C97.2,706.2 95.8,713.8 95.0,717.5"/>
<path d="M80.0,642.5 C80.8,645.8 83.0,652.4 85.0,662.0 C87.0,671.6 90.3,690.8 92.0,700.0 C93.7,709.2 94.5,714.6 95.0,717.5"/>
<path d="M71.0,672.5 C72.8,675.4 78.0,682.5 82.0,690.0 C86.0,697.5 92.8,712.9 95.0,717.5"/>
<path d="M95.0,717.5 C95.7,721.2 98.0,732.2 99.0,740.0 C100.0,747.8 100.7,760.0 101.0,764.0"/>
<path d="M101.0,764.0 C101.5,767.5 102.9,777.8 104.0,785.0 C105.1,792.2 106.9,803.8 107.5,807.5"/>
</g><g stroke="none" fill="#b3d1bd">
<path d="M349.1,315.2 L348.5,314.4 L348.0,313.3 L347.3,312.0 L346.7,310.5 L346.0,309.0 L345.3,307.4 L344.8,306.0 L344.3,304.6 L343.9,303.4 L343.5,302.2 L343.1,301.0 L342.8,299.7 L342.5,298.5 L342.3,297.3 L342.0,296.1 L341.8,294.9 L341.5,293.6 L341.3,292.2 L341.1,290.8 L340.9,289.3 L340.7,288.0 L340.6,286.8 L340.4,285.7 L340.3,285.0 L339.7,285.0 L339.7,285.8 L339.7,286.8 L339.8,288.1 L339.8,289.4 L339.9,290.9 L340.0,292.3 L340.1,293.8 L340.2,295.1 L340.4,296.4 L340.5,297.6 L340.6,298.9 L340.8,300.1 L341.0,301.4 L341.2,302.7 L341.4,304.0 L341.7,305.4 L342.1,306.8 L342.6,308.4 L343.1,310.1 L343.6,311.7 L344.1,313.3 L344.5,314.7 L344.8,315.9 L344.9,316.8 Z"/>
<path d="M156.9,422.0 L155.7,421.6 L154.0,420.8 L152.0,419.9 L149.7,418.9 L147.3,417.8 L144.9,416.9 L142.5,416.1 L140.3,415.6 L138.4,415.2 L136.6,415.0 L134.9,414.8 L133.1,414.8 L131.2,414.9 L129.2,415.2 L127.1,415.8 L124.7,416.5 L121.9,417.6 L118.9,419.0 L115.7,420.7 L112.4,422.5 L109.1,424.4 L105.8,426.2 L102.6,427.9 L99.7,429.4 L96.9,430.8 L93.9,432.2 L91.0,433.6 L88.2,434.9 L85.6,436.0 L83.3,437.1 L81.4,438.0 L79.9,438.7 L80.1,439.3 L81.6,438.6 L83.6,437.8 L86.0,436.8 L88.6,435.7 L91.5,434.5 L94.4,433.2 L97.4,431.9 L100.3,430.6 L103.3,429.1 L106.5,427.5 L109.8,425.7 L113.2,424.0 L116.5,422.2 L119.7,420.7 L122.7,419.4 L125.3,418.5 L127.6,417.9 L129.6,417.5 L131.4,417.3 L133.1,417.3 L134.6,417.4 L136.2,417.7 L137.9,418.0 L139.7,418.4 L141.6,419.0 L143.7,419.9 L145.9,420.9 L148.2,422.1 L150.3,423.2 L152.2,424.3 L153.9,425.2 L155.1,426.0 Z"/>
<path d="M181.8,481.0 L183.2,480.2 L185.0,479.3 L187.2,478.2 L189.7,477.1 L192.3,475.9 L195.0,474.8 L197.7,473.8 L200.2,473.0 L202.9,472.3 L205.9,471.7 L209.1,471.2 L212.3,470.7 L215.3,470.3 L218.0,469.9 L220.3,469.6 L222.0,469.3 L222.0,468.7 L220.2,468.8 L217.9,469.0 L215.2,469.2 L212.1,469.4 L208.9,469.7 L205.7,470.1 L202.6,470.5 L199.8,471.0 L197.0,471.6 L194.2,472.5 L191.3,473.4 L188.6,474.3 L186.0,475.2 L183.7,476.0 L181.7,476.6 L180.2,477.0 Z"/>
<path d="M179.5,480.6 L180.4,481.2 L181.5,481.9 L182.7,482.9 L184.1,484.0 L185.4,485.1 L186.7,486.3 L187.9,487.6 L188.9,488.8 L189.8,489.9 L190.6,491.1 L191.3,492.3 L192.0,493.5 L192.6,494.8 L193.2,496.3 L193.7,498.1 L194.2,500.1 L194.7,502.7 L195.1,505.8 L195.5,509.2 L195.8,512.8 L196.1,516.3 L196.3,519.4 L196.5,522.1 L196.7,524.0 L197.3,524.0 L197.2,522.0 L197.1,519.4 L197.0,516.2 L196.8,512.7 L196.6,509.1 L196.4,505.7 L196.1,502.5 L195.8,499.9 L195.4,497.7 L194.9,495.8 L194.4,494.2 L193.9,492.6 L193.3,491.2 L192.6,489.9 L191.9,488.6 L191.1,487.2 L190.1,485.8 L188.9,484.3 L187.6,482.9 L186.3,481.5 L185.1,480.3 L183.9,479.1 L183.1,478.2 L182.5,477.4 Z"/>
<path d="M157.7,540.8 L158.8,541.2 L160.2,542.0 L161.7,542.8 L163.4,543.8 L165.1,544.9 L166.6,546.1 L168.0,547.3 L169.1,548.6 L170.0,550.0 L170.8,551.7 L171.5,553.7 L172.1,555.7 L172.6,557.7 L173.0,559.5 L173.4,561.0 L173.7,562.1 L174.3,561.9 L174.1,560.8 L173.9,559.3 L173.6,557.4 L173.3,555.4 L172.9,553.3 L172.4,551.2 L171.7,549.2 L170.9,547.4 L169.7,545.8 L168.3,544.3 L166.7,542.8 L165.1,541.4 L163.5,540.2 L162.1,539.0 L161.0,538.1 L160.3,537.2 Z"/>
<path d="M108.0,615.0 L106.9,613.5 L105.7,611.5 L104.3,609.1 L102.8,606.4 L101.1,603.5 L99.4,600.4 L97.6,597.4 L95.9,594.5 L94.0,591.4 L91.9,588.0 L89.6,584.4 L87.4,580.9 L85.2,577.4 L83.2,574.3 L81.5,571.8 L80.3,569.8 L79.7,570.2 L80.9,572.2 L82.4,574.8 L84.2,578.0 L86.3,581.5 L88.4,585.2 L90.5,588.9 L92.4,592.4 L94.1,595.5 L95.6,598.5 L97.2,601.6 L98.7,604.7 L100.1,607.7 L101.4,610.6 L102.6,613.1 L103.5,615.3 L104.0,617.0 Z"/>
<path d="M106.8,614.0 L105.2,613.6 L103.1,612.8 L100.6,611.9 L97.8,610.8 L94.8,609.6 L91.6,608.6 L88.4,607.7 L85.2,607.0 L81.8,606.5 L77.9,606.2 L73.8,606.0 L69.7,605.9 L65.8,605.8 L62.2,605.7 L59.2,605.7 L57.0,605.7 L57.0,606.3 L59.2,606.5 L62.2,606.7 L65.7,606.9 L69.7,607.1 L73.7,607.5 L77.8,607.9 L81.5,608.4 L84.8,609.0 L87.8,609.9 L90.8,610.9 L93.8,612.2 L96.7,613.5 L99.3,614.8 L101.7,616.0 L103.7,617.1 L105.2,618.0 Z"/>
<path d="M104.4,614.5 L103.7,615.6 L102.7,617.0 L101.5,618.5 L100.0,620.2 L98.5,622.1 L97.0,623.9 L95.6,625.7 L94.2,627.3 L92.9,629.0 L91.6,630.7 L90.2,632.6 L88.8,634.3 L87.5,636.0 L86.4,637.5 L85.5,638.8 L84.8,639.8 L85.2,640.2 L86.1,639.3 L87.1,638.1 L88.4,636.7 L89.8,635.2 L91.3,633.5 L92.8,631.8 L94.3,630.2 L95.8,628.7 L97.2,627.2 L98.9,625.6 L100.5,623.9 L102.2,622.3 L103.8,620.7 L105.3,619.4 L106.6,618.2 L107.6,617.5 Z"/>
<path d="M69.2,671.2 L68.7,672.3 L67.8,673.7 L66.7,675.3 L65.5,677.1 L64.2,679.0 L63.0,680.9 L61.8,682.7 L60.9,684.3 L60.1,685.7 L59.6,686.9 L59.1,688.0 L58.7,689.1 L58.3,690.2 L57.8,691.5 L57.1,692.9 L56.3,694.6 L55.2,696.8 L53.8,699.5 L52.3,702.4 L50.7,705.4 L49.2,708.3 L47.8,711.0 L46.6,713.2 L45.7,714.9 L46.3,715.1 L47.2,713.6 L48.5,711.4 L50.0,708.8 L51.6,705.9 L53.3,702.9 L55.0,700.1 L56.5,697.5 L57.7,695.4 L58.6,693.7 L59.4,692.2 L60.0,691.0 L60.6,690.0 L61.1,689.0 L61.7,688.0 L62.3,686.9 L63.1,685.7 L64.2,684.3 L65.4,682.6 L66.7,680.9 L68.1,679.1 L69.5,677.4 L70.8,675.9 L71.9,674.7 L72.8,673.8 Z"/>
<path d="M94.0,719.5 L95.3,719.8 L96.9,720.4 L98.8,721.2 L100.9,722.1 L103.1,723.1 L105.3,724.1 L107.5,725.1 L109.6,725.9 L111.6,726.8 L113.7,727.7 L116.0,728.6 L118.2,729.6 L120.2,730.4 L122.1,731.2 L123.7,731.8 L124.9,732.3 L125.1,731.7 L124.0,731.1 L122.5,730.3 L120.7,729.4 L118.7,728.4 L116.6,727.3 L114.5,726.2 L112.4,725.1 L110.4,724.1 L108.5,723.0 L106.5,721.9 L104.3,720.7 L102.2,719.5 L100.3,718.3 L98.5,717.3 L97.0,716.4 L96.0,715.5 Z"/>
<path d="M93.6,715.8 L92.8,716.8 L91.6,717.9 L90.1,719.2 L88.4,720.7 L86.7,722.3 L85.0,723.9 L83.4,725.6 L82.0,727.1 L80.8,728.7 L79.9,730.3 L79.1,731.9 L78.3,733.5 L77.5,735.1 L76.7,736.6 L75.7,738.1 L74.5,739.4 L72.9,740.9 L71.0,742.3 L68.9,743.8 L66.7,745.3 L64.6,746.7 L62.6,747.9 L61.0,748.9 L59.8,749.7 L60.2,750.3 L61.4,749.5 L63.1,748.6 L65.1,747.5 L67.3,746.2 L69.5,744.8 L71.8,743.4 L73.8,742.0 L75.5,740.6 L76.9,739.1 L78.1,737.6 L79.2,736.1 L80.1,734.5 L81.0,733.0 L81.9,731.5 L82.9,730.2 L84.0,728.9 L85.4,727.5 L87.0,726.1 L88.8,724.7 L90.6,723.3 L92.3,722.0 L93.9,720.8 L95.3,719.8 L96.4,719.2 Z"/>
<path d="M102.3,762.3 L101.3,761.8 L100.1,761.1 L98.6,760.1 L97.0,759.0 L95.3,757.8 L93.6,756.7 L92.0,755.8 L90.4,755.1 L88.9,754.6 L87.4,754.2 L85.9,754.0 L84.4,753.9 L83.0,753.8 L81.8,753.8 L80.8,753.7 L80.0,753.7 L80.0,754.3 L80.7,754.5 L81.7,754.7 L82.9,754.9 L84.2,755.1 L85.6,755.4 L87.0,755.8 L88.3,756.3 L89.6,756.9 L90.8,757.7 L92.2,758.8 L93.7,760.0 L95.2,761.3 L96.6,762.6 L97.9,763.8 L99.0,764.9 L99.7,765.7 Z"/>
<path d="M100.9,766.2 L102.4,766.0 L104.3,765.9 L106.5,765.8 L109.0,765.8 L111.7,765.9 L114.4,766.1 L117.1,766.4 L119.7,767.0 L122.4,767.9 L125.5,769.1 L128.7,770.6 L131.9,772.2 L135.0,773.8 L137.7,775.2 L140.1,776.4 L141.9,777.3 L142.1,776.7 L140.5,775.8 L138.2,774.4 L135.5,772.8 L132.5,771.1 L129.3,769.3 L126.2,767.6 L123.1,766.2 L120.3,765.0 L117.6,764.2 L114.8,763.6 L111.9,763.2 L109.2,762.8 L106.7,762.6 L104.4,762.4 L102.5,762.2 L101.1,761.8 Z"/>
<path d="M99.1,765.0 L99.9,766.0 L100.8,767.4 L101.9,769.0 L103.0,770.8 L104.1,772.7 L105.2,774.7 L106.2,776.6 L107.0,778.3 L107.7,780.1 L108.3,782.0 L108.8,784.0 L109.3,786.0 L109.7,787.9 L110.1,789.6 L110.4,791.0 L110.7,792.1 L111.3,791.9 L111.2,790.9 L111.0,789.4 L110.8,787.7 L110.6,785.8 L110.3,783.7 L109.9,781.6 L109.5,779.6 L109.0,777.7 L108.3,775.7 L107.5,773.6 L106.6,771.5 L105.6,769.4 L104.7,767.5 L103.9,765.7 L103.3,764.2 L102.9,763.0 Z"/>
<path d="M105.4,806.9 L105.3,808.3 L105.0,810.0 L104.5,812.0 L104.0,814.3 L103.5,816.8 L102.9,819.4 L102.4,822.1 L102.0,824.8 L101.6,827.8 L101.2,831.2 L100.9,834.8 L100.6,838.5 L100.3,842.1 L100.0,845.3 L99.8,848.0 L99.7,850.0 L100.3,850.0 L100.6,848.1 L101.0,845.4 L101.4,842.2 L101.9,838.7 L102.4,835.0 L102.9,831.4 L103.5,828.1 L104.0,825.2 L104.6,822.6 L105.3,820.0 L106.1,817.5 L106.9,815.1 L107.6,812.9 L108.3,811.0 L109.0,809.3 L109.6,808.1 Z"/>
<path d="M106.3,809.3 L107.8,810.1 L109.8,811.2 L112.1,812.4 L114.6,813.9 L117.2,815.5 L119.7,817.2 L122.0,819.0 L124.0,820.9 L125.8,823.0 L127.6,825.4 L129.4,828.1 L131.0,830.8 L132.5,833.6 L134.0,836.2 L135.2,838.5 L136.3,840.4 L137.2,841.9 L137.9,843.1 L138.4,844.1 L138.8,844.9 L139.0,845.6 L139.3,846.2 L139.5,846.7 L139.7,847.1 L140.3,846.9 L140.2,846.4 L140.1,845.9 L139.9,845.3 L139.7,844.6 L139.5,843.7 L139.0,842.6 L138.5,841.2 L137.7,839.6 L136.7,837.7 L135.6,835.3 L134.3,832.7 L132.8,829.8 L131.2,827.0 L129.6,824.1 L127.8,821.5 L126.0,819.1 L123.9,817.0 L121.5,814.9 L119.0,812.9 L116.4,811.1 L113.9,809.4 L111.7,808.0 L110.0,806.7 L108.7,805.7 Z"/>
</g>
<g fill="#c0d9c7" stroke-width="1.5">
<ellipse cx="347.0" cy="316.0" rx="6.8" ry="5.8"/>
<ellipse cx="299.0" cy="325.0" rx="6.8" ry="5.8"/>
<ellipse cx="271.0" cy="341.0" rx="6.8" ry="5.8"/>
<ellipse cx="314.0" cy="347.5" rx="6.8" ry="5.8"/>
<ellipse cx="156.0" cy="424.0" rx="6.8" ry="5.8"/>
<ellipse cx="181.0" cy="479.0" rx="6.8" ry="5.8"/>
<ellipse cx="159.0" cy="539.0" rx="6.8" ry="5.8"/>
<ellipse cx="106.0" cy="616.0" rx="6.8" ry="5.8"/>
<ellipse cx="80.0" cy="642.5" rx="6.8" ry="5.8"/>
<ellipse cx="71.0" cy="672.5" rx="6.8" ry="5.8"/>
<ellipse cx="95.0" cy="717.5" rx="6.8" ry="5.8"/>
<ellipse cx="101.0" cy="764.0" rx="6.8" ry="5.8"/>
<ellipse cx="107.5" cy="807.5" rx="6.8" ry="5.8"/>
</g></g>
<g fill="none" stroke="#3a946c" stroke-linecap="round" stroke-linejoin="round" mask="url(#lyL)">
<g stroke-width="3.3">
<path d="M347.0,316.0 C343.3,317.0 333.0,320.5 325.0,322.0 C317.0,323.5 303.3,324.5 299.0,325.0"/>
<path d="M299.0,325.0 L271.0,341.0"/>
<path d="M271.0,341.0 C274.5,341.3 284.8,341.9 292.0,343.0 C299.2,344.1 310.3,346.8 314.0,347.5"/>
<path d="M299.0,325.0 C300.0,326.8 302.5,332.2 305.0,336.0 C307.5,339.8 312.5,345.6 314.0,347.5"/>
<path d="M314.0,347.5 C316.7,345.9 325.3,341.4 330.0,338.0 C334.7,334.6 339.2,330.7 342.0,327.0 C344.8,323.3 346.2,317.8 347.0,316.0"/>
<path d="M271.0,341.0 C267.5,342.5 261.8,345.2 250.0,350.0 C238.2,354.8 213.3,361.7 200.0,370.0 C186.7,378.3 177.3,391.0 170.0,400.0 C162.7,409.0 158.3,420.0 156.0,424.0"/>
<path d="M156.0,424.0 C155.8,428.3 154.0,437.3 155.0,450.0 C156.0,462.7 161.3,485.2 162.0,500.0 C162.7,514.8 159.5,532.5 159.0,539.0"/>
<path d="M156.0,424.0 C158.7,429.2 167.8,445.8 172.0,455.0 C176.2,464.2 180.5,471.5 181.0,479.0 C181.5,486.5 176.8,492.3 175.0,500.0 C173.2,507.7 172.7,518.5 170.0,525.0 C167.3,531.5 160.8,536.7 159.0,539.0"/>
<path d="M159.0,539.0 C155.8,543.3 146.5,554.8 140.0,565.0 C133.5,575.2 125.7,591.5 120.0,600.0 C114.3,608.5 108.3,613.3 106.0,616.0"/>
<path d="M106.0,616.0 L80.0,642.5"/>
<path d="M80.0,642.5 L71.0,672.5"/>
<path d="M106.0,616.0 C107.0,621.7 113.0,636.8 112.0,650.0 C111.0,663.2 102.8,683.8 100.0,695.0 C97.2,706.2 95.8,713.8 95.0,717.5"/>
<path d="M80.0,642.5 C80.8,645.8 83.0,652.4 85.0,662.0 C87.0,671.6 90.3,690.8 92.0,700.0 C93.7,709.2 94.5,714.6 95.0,717.5"/>
<path d="M71.0,672.5 C72.8,675.4 78.0,682.5 82.0,690.0 C86.0,697.5 92.8,712.9 95.0,717.5"/>
<path d="M95.0,717.5 C95.7,721.2 98.0,732.2 99.0,740.0 C100.0,747.8 100.7,760.0 101.0,764.0"/>
<path d="M101.0,764.0 C101.5,767.5 102.9,777.8 104.0,785.0 C105.1,792.2 106.9,803.8 107.5,807.5"/>
</g><g stroke="none" fill="#3a946c">
<path d="M349.1,315.2 L348.5,314.4 L348.0,313.3 L347.3,312.0 L346.7,310.5 L346.0,309.0 L345.3,307.4 L344.8,306.0 L344.3,304.6 L343.9,303.4 L343.5,302.2 L343.1,301.0 L342.8,299.7 L342.5,298.5 L342.3,297.3 L342.0,296.1 L341.8,294.9 L341.5,293.6 L341.3,292.2 L341.1,290.8 L340.9,289.3 L340.7,288.0 L340.6,286.8 L340.4,285.7 L340.3,285.0 L339.7,285.0 L339.7,285.8 L339.7,286.8 L339.8,288.1 L339.8,289.4 L339.9,290.9 L340.0,292.3 L340.1,293.8 L340.2,295.1 L340.4,296.4 L340.5,297.6 L340.6,298.9 L340.8,300.1 L341.0,301.4 L341.2,302.7 L341.4,304.0 L341.7,305.4 L342.1,306.8 L342.6,308.4 L343.1,310.1 L343.6,311.7 L344.1,313.3 L344.5,314.7 L344.8,315.9 L344.9,316.8 Z"/>
<path d="M156.9,422.0 L155.7,421.6 L154.0,420.8 L152.0,419.9 L149.7,418.9 L147.3,417.8 L144.9,416.9 L142.5,416.1 L140.3,415.6 L138.4,415.2 L136.6,415.0 L134.9,414.8 L133.1,414.8 L131.2,414.9 L129.2,415.2 L127.1,415.8 L124.7,416.5 L121.9,417.6 L118.9,419.0 L115.7,420.7 L112.4,422.5 L109.1,424.4 L105.8,426.2 L102.6,427.9 L99.7,429.4 L96.9,430.8 L93.9,432.2 L91.0,433.6 L88.2,434.9 L85.6,436.0 L83.3,437.1 L81.4,438.0 L79.9,438.7 L80.1,439.3 L81.6,438.6 L83.6,437.8 L86.0,436.8 L88.6,435.7 L91.5,434.5 L94.4,433.2 L97.4,431.9 L100.3,430.6 L103.3,429.1 L106.5,427.5 L109.8,425.7 L113.2,424.0 L116.5,422.2 L119.7,420.7 L122.7,419.4 L125.3,418.5 L127.6,417.9 L129.6,417.5 L131.4,417.3 L133.1,417.3 L134.6,417.4 L136.2,417.7 L137.9,418.0 L139.7,418.4 L141.6,419.0 L143.7,419.9 L145.9,420.9 L148.2,422.1 L150.3,423.2 L152.2,424.3 L153.9,425.2 L155.1,426.0 Z"/>
<path d="M181.8,481.0 L183.2,480.2 L185.0,479.3 L187.2,478.2 L189.7,477.1 L192.3,475.9 L195.0,474.8 L197.7,473.8 L200.2,473.0 L202.9,472.3 L205.9,471.7 L209.1,471.2 L212.3,470.7 L215.3,470.3 L218.0,469.9 L220.3,469.6 L222.0,469.3 L222.0,468.7 L220.2,468.8 L217.9,469.0 L215.2,469.2 L212.1,469.4 L208.9,469.7 L205.7,470.1 L202.6,470.5 L199.8,471.0 L197.0,471.6 L194.2,472.5 L191.3,473.4 L188.6,474.3 L186.0,475.2 L183.7,476.0 L181.7,476.6 L180.2,477.0 Z"/>
<path d="M179.5,480.6 L180.4,481.2 L181.5,481.9 L182.7,482.9 L184.1,484.0 L185.4,485.1 L186.7,486.3 L187.9,487.6 L188.9,488.8 L189.8,489.9 L190.6,491.1 L191.3,492.3 L192.0,493.5 L192.6,494.8 L193.2,496.3 L193.7,498.1 L194.2,500.1 L194.7,502.7 L195.1,505.8 L195.5,509.2 L195.8,512.8 L196.1,516.3 L196.3,519.4 L196.5,522.1 L196.7,524.0 L197.3,524.0 L197.2,522.0 L197.1,519.4 L197.0,516.2 L196.8,512.7 L196.6,509.1 L196.4,505.7 L196.1,502.5 L195.8,499.9 L195.4,497.7 L194.9,495.8 L194.4,494.2 L193.9,492.6 L193.3,491.2 L192.6,489.9 L191.9,488.6 L191.1,487.2 L190.1,485.8 L188.9,484.3 L187.6,482.9 L186.3,481.5 L185.1,480.3 L183.9,479.1 L183.1,478.2 L182.5,477.4 Z"/>
<path d="M157.7,540.8 L158.8,541.2 L160.2,542.0 L161.7,542.8 L163.4,543.8 L165.1,544.9 L166.6,546.1 L168.0,547.3 L169.1,548.6 L170.0,550.0 L170.8,551.7 L171.5,553.7 L172.1,555.7 L172.6,557.7 L173.0,559.5 L173.4,561.0 L173.7,562.1 L174.3,561.9 L174.1,560.8 L173.9,559.3 L173.6,557.4 L173.3,555.4 L172.9,553.3 L172.4,551.2 L171.7,549.2 L170.9,547.4 L169.7,545.8 L168.3,544.3 L166.7,542.8 L165.1,541.4 L163.5,540.2 L162.1,539.0 L161.0,538.1 L160.3,537.2 Z"/>
<path d="M108.0,615.0 L106.9,613.5 L105.7,611.5 L104.3,609.1 L102.8,606.4 L101.1,603.5 L99.4,600.4 L97.6,597.4 L95.9,594.5 L94.0,591.4 L91.9,588.0 L89.6,584.4 L87.4,580.9 L85.2,577.4 L83.2,574.3 L81.5,571.8 L80.3,569.8 L79.7,570.2 L80.9,572.2 L82.4,574.8 L84.2,578.0 L86.3,581.5 L88.4,585.2 L90.5,588.9 L92.4,592.4 L94.1,595.5 L95.6,598.5 L97.2,601.6 L98.7,604.7 L100.1,607.7 L101.4,610.6 L102.6,613.1 L103.5,615.3 L104.0,617.0 Z"/>
<path d="M106.8,614.0 L105.2,613.6 L103.1,612.8 L100.6,611.9 L97.8,610.8 L94.8,609.6 L91.6,608.6 L88.4,607.7 L85.2,607.0 L81.8,606.5 L77.9,606.2 L73.8,606.0 L69.7,605.9 L65.8,605.8 L62.2,605.7 L59.2,605.7 L57.0,605.7 L57.0,606.3 L59.2,606.5 L62.2,606.7 L65.7,606.9 L69.7,607.1 L73.7,607.5 L77.8,607.9 L81.5,608.4 L84.8,609.0 L87.8,609.9 L90.8,610.9 L93.8,612.2 L96.7,613.5 L99.3,614.8 L101.7,616.0 L103.7,617.1 L105.2,618.0 Z"/>
<path d="M104.4,614.5 L103.7,615.6 L102.7,617.0 L101.5,618.5 L100.0,620.2 L98.5,622.1 L97.0,623.9 L95.6,625.7 L94.2,627.3 L92.9,629.0 L91.6,630.7 L90.2,632.6 L88.8,634.3 L87.5,636.0 L86.4,637.5 L85.5,638.8 L84.8,639.8 L85.2,640.2 L86.1,639.3 L87.1,638.1 L88.4,636.7 L89.8,635.2 L91.3,633.5 L92.8,631.8 L94.3,630.2 L95.8,628.7 L97.2,627.2 L98.9,625.6 L100.5,623.9 L102.2,622.3 L103.8,620.7 L105.3,619.4 L106.6,618.2 L107.6,617.5 Z"/>
<path d="M69.2,671.2 L68.7,672.3 L67.8,673.7 L66.7,675.3 L65.5,677.1 L64.2,679.0 L63.0,680.9 L61.8,682.7 L60.9,684.3 L60.1,685.7 L59.6,686.9 L59.1,688.0 L58.7,689.1 L58.3,690.2 L57.8,691.5 L57.1,692.9 L56.3,694.6 L55.2,696.8 L53.8,699.5 L52.3,702.4 L50.7,705.4 L49.2,708.3 L47.8,711.0 L46.6,713.2 L45.7,714.9 L46.3,715.1 L47.2,713.6 L48.5,711.4 L50.0,708.8 L51.6,705.9 L53.3,702.9 L55.0,700.1 L56.5,697.5 L57.7,695.4 L58.6,693.7 L59.4,692.2 L60.0,691.0 L60.6,690.0 L61.1,689.0 L61.7,688.0 L62.3,686.9 L63.1,685.7 L64.2,684.3 L65.4,682.6 L66.7,680.9 L68.1,679.1 L69.5,677.4 L70.8,675.9 L71.9,674.7 L72.8,673.8 Z"/>
<path d="M94.0,719.5 L95.3,719.8 L96.9,720.4 L98.8,721.2 L100.9,722.1 L103.1,723.1 L105.3,724.1 L107.5,725.1 L109.6,725.9 L111.6,726.8 L113.7,727.7 L116.0,728.6 L118.2,729.6 L120.2,730.4 L122.1,731.2 L123.7,731.8 L124.9,732.3 L125.1,731.7 L124.0,731.1 L122.5,730.3 L120.7,729.4 L118.7,728.4 L116.6,727.3 L114.5,726.2 L112.4,725.1 L110.4,724.1 L108.5,723.0 L106.5,721.9 L104.3,720.7 L102.2,719.5 L100.3,718.3 L98.5,717.3 L97.0,716.4 L96.0,715.5 Z"/>
<path d="M93.6,715.8 L92.8,716.8 L91.6,717.9 L90.1,719.2 L88.4,720.7 L86.7,722.3 L85.0,723.9 L83.4,725.6 L82.0,727.1 L80.8,728.7 L79.9,730.3 L79.1,731.9 L78.3,733.5 L77.5,735.1 L76.7,736.6 L75.7,738.1 L74.5,739.4 L72.9,740.9 L71.0,742.3 L68.9,743.8 L66.7,745.3 L64.6,746.7 L62.6,747.9 L61.0,748.9 L59.8,749.7 L60.2,750.3 L61.4,749.5 L63.1,748.6 L65.1,747.5 L67.3,746.2 L69.5,744.8 L71.8,743.4 L73.8,742.0 L75.5,740.6 L76.9,739.1 L78.1,737.6 L79.2,736.1 L80.1,734.5 L81.0,733.0 L81.9,731.5 L82.9,730.2 L84.0,728.9 L85.4,727.5 L87.0,726.1 L88.8,724.7 L90.6,723.3 L92.3,722.0 L93.9,720.8 L95.3,719.8 L96.4,719.2 Z"/>
<path d="M102.3,762.3 L101.3,761.8 L100.1,761.1 L98.6,760.1 L97.0,759.0 L95.3,757.8 L93.6,756.7 L92.0,755.8 L90.4,755.1 L88.9,754.6 L87.4,754.2 L85.9,754.0 L84.4,753.9 L83.0,753.8 L81.8,753.8 L80.8,753.7 L80.0,753.7 L80.0,754.3 L80.7,754.5 L81.7,754.7 L82.9,754.9 L84.2,755.1 L85.6,755.4 L87.0,755.8 L88.3,756.3 L89.6,756.9 L90.8,757.7 L92.2,758.8 L93.7,760.0 L95.2,761.3 L96.6,762.6 L97.9,763.8 L99.0,764.9 L99.7,765.7 Z"/>
<path d="M100.9,766.2 L102.4,766.0 L104.3,765.9 L106.5,765.8 L109.0,765.8 L111.7,765.9 L114.4,766.1 L117.1,766.4 L119.7,767.0 L122.4,767.9 L125.5,769.1 L128.7,770.6 L131.9,772.2 L135.0,773.8 L137.7,775.2 L140.1,776.4 L141.9,777.3 L142.1,776.7 L140.5,775.8 L138.2,774.4 L135.5,772.8 L132.5,771.1 L129.3,769.3 L126.2,767.6 L123.1,766.2 L120.3,765.0 L117.6,764.2 L114.8,763.6 L111.9,763.2 L109.2,762.8 L106.7,762.6 L104.4,762.4 L102.5,762.2 L101.1,761.8 Z"/>
<path d="M99.1,765.0 L99.9,766.0 L100.8,767.4 L101.9,769.0 L103.0,770.8 L104.1,772.7 L105.2,774.7 L106.2,776.6 L107.0,778.3 L107.7,780.1 L108.3,782.0 L108.8,784.0 L109.3,786.0 L109.7,787.9 L110.1,789.6 L110.4,791.0 L110.7,792.1 L111.3,791.9 L111.2,790.9 L111.0,789.4 L110.8,787.7 L110.6,785.8 L110.3,783.7 L109.9,781.6 L109.5,779.6 L109.0,777.7 L108.3,775.7 L107.5,773.6 L106.6,771.5 L105.6,769.4 L104.7,767.5 L103.9,765.7 L103.3,764.2 L102.9,763.0 Z"/>
<path d="M105.4,806.9 L105.3,808.3 L105.0,810.0 L104.5,812.0 L104.0,814.3 L103.5,816.8 L102.9,819.4 L102.4,822.1 L102.0,824.8 L101.6,827.8 L101.2,831.2 L100.9,834.8 L100.6,838.5 L100.3,842.1 L100.0,845.3 L99.8,848.0 L99.7,850.0 L100.3,850.0 L100.6,848.1 L101.0,845.4 L101.4,842.2 L101.9,838.7 L102.4,835.0 L102.9,831.4 L103.5,828.1 L104.0,825.2 L104.6,822.6 L105.3,820.0 L106.1,817.5 L106.9,815.1 L107.6,812.9 L108.3,811.0 L109.0,809.3 L109.6,808.1 Z"/>
<path d="M106.3,809.3 L107.8,810.1 L109.8,811.2 L112.1,812.4 L114.6,813.9 L117.2,815.5 L119.7,817.2 L122.0,819.0 L124.0,820.9 L125.8,823.0 L127.6,825.4 L129.4,828.1 L131.0,830.8 L132.5,833.6 L134.0,836.2 L135.2,838.5 L136.3,840.4 L137.2,841.9 L137.9,843.1 L138.4,844.1 L138.8,844.9 L139.0,845.6 L139.3,846.2 L139.5,846.7 L139.7,847.1 L140.3,846.9 L140.2,846.4 L140.1,845.9 L139.9,845.3 L139.7,844.6 L139.5,843.7 L139.0,842.6 L138.5,841.2 L137.7,839.6 L136.7,837.7 L135.6,835.3 L134.3,832.7 L132.8,829.8 L131.2,827.0 L129.6,824.1 L127.8,821.5 L126.0,819.1 L123.9,817.0 L121.5,814.9 L119.0,812.9 L116.4,811.1 L113.9,809.4 L111.7,808.0 L110.0,806.7 L108.7,805.7 Z"/>
</g>
<g fill="#62a585" stroke-width="1.5">
<ellipse cx="347.0" cy="316.0" rx="6.8" ry="5.8"/>
<ellipse cx="299.0" cy="325.0" rx="6.8" ry="5.8"/>
<ellipse cx="271.0" cy="341.0" rx="6.8" ry="5.8"/>
<ellipse cx="314.0" cy="347.5" rx="6.8" ry="5.8"/>
<ellipse cx="156.0" cy="424.0" rx="6.8" ry="5.8"/>
<ellipse cx="181.0" cy="479.0" rx="6.8" ry="5.8"/>
<ellipse cx="159.0" cy="539.0" rx="6.8" ry="5.8"/>
<ellipse cx="106.0" cy="616.0" rx="6.8" ry="5.8"/>
<ellipse cx="80.0" cy="642.5" rx="6.8" ry="5.8"/>
<ellipse cx="71.0" cy="672.5" rx="6.8" ry="5.8"/>
<ellipse cx="95.0" cy="717.5" rx="6.8" ry="5.8"/>
<ellipse cx="101.0" cy="764.0" rx="6.8" ry="5.8"/>
<ellipse cx="107.5" cy="807.5" rx="6.8" ry="5.8"/>
</g></g>
<g fill="none" stroke="#2f8a62" stroke-linecap="round" stroke-linejoin="round" mask="url(#lyR)">
<g stroke-width="3.3">
<path d="M395.5,292.6 C397.8,295.3 404.1,304.8 409.0,309.0 C413.9,313.2 420.0,315.3 425.0,318.0 C430.0,320.7 436.7,323.8 439.0,325.0"/>
<path d="M395.5,292.6 C396.0,295.8 396.8,304.5 398.7,311.5 C400.6,318.5 402.8,328.6 407.0,334.6 C411.2,340.6 421.2,345.4 424.0,347.5"/>
<path d="M439.0,325.0 L424.0,347.5"/>
<path d="M439.0,325.0 C440.8,326.2 445.5,329.3 450.0,332.0 C454.5,334.7 463.3,339.5 466.0,341.0"/>
<path d="M424.0,347.5 C427.5,346.9 438.0,345.1 445.0,344.0 C452.0,342.9 462.5,341.5 466.0,341.0"/>
<path d="M424.0,347.5 C422.9,351.2 420.7,362.1 417.5,370.0 C414.3,377.9 408.3,385.8 405.0,395.0 C401.7,404.2 398.8,414.8 397.5,425.0 C396.2,435.2 396.8,445.8 397.0,456.0 C397.2,466.2 399.2,479.1 399.0,486.0 C398.8,492.9 396.5,495.6 396.0,497.5"/>
<path d="M466.0,341.0 C471.7,343.8 488.1,351.8 500.0,357.5 C511.9,363.2 527.1,368.8 537.5,375.0 C547.9,381.2 555.2,386.8 562.5,395.0 C569.8,403.2 577.9,419.2 581.0,424.0"/>
<path d="M581.0,424.0 C581.5,428.3 585.0,439.4 584.0,450.0 C583.0,460.6 576.9,477.1 575.0,487.5 C573.1,497.9 571.8,503.9 572.5,512.5 C573.2,521.1 577.9,534.6 579.0,539.0"/>
<path d="M581.0,424.0 C579.2,428.3 574.2,440.8 570.0,450.0 C565.8,459.2 557.2,470.7 556.0,479.0 C554.8,487.3 560.6,493.2 562.5,500.0 C564.4,506.8 564.8,513.5 567.5,520.0 C570.2,526.5 577.1,535.8 579.0,539.0"/>
<path d="M579.0,539.0 C582.5,542.9 594.4,553.2 600.0,562.5 C605.6,571.8 607.1,586.2 612.5,595.0 C617.9,603.8 629.2,612.1 632.5,615.5"/>
<path d="M632.5,615.5 L657.5,642.5"/>
<path d="M657.5,642.5 C658.1,644.9 659.6,652.0 661.0,657.0 C662.4,662.0 665.2,669.9 666.0,672.5"/>
<path d="M632.5,615.5 C631.2,621.2 625.0,638.0 625.0,650.0 C625.0,662.0 629.6,676.2 632.5,687.5 C635.4,698.8 640.8,712.5 642.5,717.5"/>
<path d="M657.5,642.5 C656.2,645.8 652.1,653.2 650.0,662.0 C647.9,670.8 646.2,685.8 645.0,695.0 C643.8,704.2 642.9,713.8 642.5,717.5"/>
<path d="M666.0,672.5 C664.2,675.0 658.1,682.9 655.0,687.5 C651.9,692.1 649.6,695.0 647.5,700.0 C645.4,705.0 643.3,714.6 642.5,717.5"/>
<path d="M642.5,717.5 C642.1,721.2 641.1,732.2 640.0,740.0 C638.9,747.8 636.7,760.0 636.0,764.0"/>
<path d="M636.0,764.0 C635.7,767.5 635.0,777.8 634.0,785.0 C633.0,792.2 630.7,803.8 630.0,807.5"/>
</g><g stroke="none" fill="#2f8a62">
<path d="M397.5,291.7 L397.0,291.2 L396.4,290.5 L395.8,289.6 L395.2,288.6 L394.6,287.6 L394.0,286.5 L393.4,285.5 L393.0,284.6 L392.5,283.8 L392.1,282.8 L391.8,281.8 L391.4,280.9 L391.1,279.9 L390.8,279.1 L390.5,278.4 L390.3,277.9 L389.7,278.1 L389.8,278.6 L389.9,279.4 L390.0,280.2 L390.2,281.2 L390.3,282.2 L390.6,283.3 L390.8,284.3 L391.0,285.4 L391.3,286.4 L391.7,287.5 L392.1,288.7 L392.5,289.9 L392.9,291.0 L393.3,292.0 L393.5,292.8 L393.5,293.5 Z"/>
<path d="M397.4,293.7 L397.5,293.0 L397.8,292.1 L398.3,291.1 L398.8,290.0 L399.4,288.8 L400.0,287.7 L400.5,286.5 L400.9,285.5 L401.3,284.4 L401.7,283.4 L402.0,282.3 L402.4,281.3 L402.7,280.3 L402.9,279.4 L403.1,278.7 L403.3,278.1 L402.7,277.9 L402.4,278.4 L402.1,279.1 L401.6,279.9 L401.2,280.8 L400.7,281.7 L400.2,282.7 L399.6,283.7 L399.1,284.5 L398.5,285.4 L397.8,286.4 L397.1,287.4 L396.3,288.5 L395.6,289.4 L394.8,290.3 L394.2,291.0 L393.6,291.5 Z"/>
<path d="M398.5,454.4 L397.1,453.5 L395.4,452.3 L393.5,450.8 L391.4,449.1 L389.2,447.3 L387.0,445.4 L385.0,443.6 L383.3,441.8 L381.7,440.0 L380.1,438.0 L378.6,435.9 L377.1,433.8 L375.8,431.8 L374.6,430.0 L373.6,428.5 L372.8,427.3 L372.2,427.7 L372.9,428.9 L373.8,430.5 L374.8,432.4 L376.0,434.5 L377.4,436.7 L378.8,439.0 L380.2,441.2 L381.7,443.2 L383.4,445.1 L385.3,447.2 L387.3,449.3 L389.4,451.3 L391.4,453.2 L393.1,454.9 L394.6,456.4 L395.5,457.6 Z"/>
<path d="M400.8,484.7 L400.0,484.1 L399.1,483.1 L398.1,482.0 L397.0,480.7 L395.9,479.3 L394.8,477.9 L393.7,476.6 L392.9,475.5 L392.1,474.3 L391.3,473.2 L390.6,472.0 L389.9,470.8 L389.2,469.8 L388.7,468.8 L388.2,468.0 L387.8,467.4 L387.2,467.6 L387.5,468.3 L387.8,469.2 L388.2,470.2 L388.7,471.4 L389.3,472.7 L389.9,474.0 L390.5,475.3 L391.1,476.5 L391.9,477.9 L392.7,479.3 L393.6,480.9 L394.6,482.4 L395.5,483.9 L396.3,485.2 L396.9,486.3 L397.2,487.3 Z"/>
<path d="M582.2,425.8 L583.2,425.0 L584.6,423.9 L586.1,422.7 L587.9,421.4 L589.7,420.1 L591.6,419.0 L593.5,418.0 L595.3,417.4 L597.2,417.1 L599.0,416.8 L601.0,416.7 L603.0,416.7 L605.1,416.9 L607.3,417.2 L609.6,417.8 L612.2,418.5 L614.9,419.5 L617.9,420.8 L621.1,422.3 L624.4,424.0 L627.7,425.8 L631.0,427.5 L634.2,429.1 L637.2,430.6 L640.3,431.9 L643.4,433.2 L646.6,434.5 L649.6,435.7 L652.5,436.8 L655.1,437.8 L657.2,438.6 L658.9,439.3 L659.1,438.7 L657.5,438.0 L655.4,437.1 L652.8,436.0 L650.0,434.8 L647.0,433.6 L643.8,432.2 L640.7,430.8 L637.8,429.4 L634.8,427.9 L631.7,426.2 L628.4,424.4 L625.1,422.5 L621.9,420.8 L618.7,419.1 L615.7,417.7 L612.8,416.5 L610.2,415.7 L607.8,415.0 L605.4,414.5 L603.2,414.2 L601.0,414.1 L598.9,414.1 L596.8,414.3 L594.7,414.6 L592.4,415.2 L590.2,416.1 L588.0,417.2 L585.9,418.4 L584.0,419.7 L582.3,420.8 L580.9,421.6 L579.8,422.2 Z"/>
<path d="M557.0,477.1 L555.5,476.6 L553.6,475.7 L551.4,474.5 L548.9,473.3 L546.2,472.0 L543.3,470.8 L540.5,469.7 L537.7,469.0 L534.9,468.6 L531.7,468.3 L528.4,468.3 L525.1,468.3 L522.0,468.4 L519.1,468.5 L516.8,468.6 L515.0,468.7 L515.0,469.3 L516.8,469.4 L519.1,469.5 L522.0,469.5 L525.1,469.6 L528.3,469.7 L531.6,470.0 L534.6,470.4 L537.3,471.0 L539.8,471.9 L542.3,473.0 L544.9,474.4 L547.4,475.9 L549.8,477.3 L551.9,478.7 L553.7,479.9 L555.0,480.9 Z"/>
<path d="M554.8,477.2 L554.1,477.8 L553.1,478.6 L551.8,479.5 L550.3,480.5 L548.8,481.6 L547.4,482.8 L546.1,483.9 L545.0,485.1 L544.3,486.1 L543.6,486.9 L543.1,487.8 L542.6,488.8 L542.2,489.9 L542.0,491.2 L541.8,492.9 L541.7,495.0 L541.8,497.7 L541.9,501.2 L542.2,505.2 L542.5,509.3 L542.9,513.4 L543.2,517.2 L543.5,520.3 L543.7,522.5 L544.3,522.5 L544.2,520.2 L544.0,517.1 L543.8,513.4 L543.6,509.3 L543.3,505.1 L543.2,501.2 L543.2,497.7 L543.3,495.0 L543.5,493.1 L543.8,491.6 L544.1,490.5 L544.5,489.7 L544.9,489.0 L545.5,488.4 L546.2,487.7 L547.0,486.9 L547.9,486.0 L549.2,485.1 L550.6,484.2 L552.1,483.3 L553.6,482.5 L555.0,481.8 L556.2,481.2 L557.2,480.8 Z"/>
<path d="M578.0,537.0 L577.4,537.6 L576.4,538.2 L575.1,538.9 L573.6,539.7 L572.1,540.6 L570.6,541.7 L569.2,542.9 L568.1,544.4 L567.3,546.3 L566.7,548.4 L566.2,550.8 L565.7,553.2 L565.4,555.6 L565.1,557.8 L564.9,559.6 L564.7,560.9 L565.3,561.1 L565.6,559.8 L566.0,558.0 L566.5,555.8 L567.0,553.5 L567.6,551.1 L568.3,548.9 L569.0,547.0 L569.9,545.6 L570.8,544.5 L572.0,543.7 L573.4,542.9 L574.9,542.3 L576.3,541.9 L577.7,541.5 L579.0,541.2 L580.0,541.0 Z"/>
<path d="M634.5,616.5 L634.9,615.2 L635.6,613.6 L636.4,611.7 L637.4,609.6 L638.4,607.3 L639.5,605.0 L640.4,602.7 L641.2,600.5 L641.9,598.2 L642.4,595.9 L642.8,593.6 L643.2,591.3 L643.6,589.0 L644.1,586.8 L644.8,584.8 L645.7,582.9 L646.9,581.0 L648.4,579.2 L650.1,577.3 L651.9,575.5 L653.7,573.9 L655.3,572.4 L656.7,571.2 L657.7,570.2 L657.3,569.8 L656.2,570.7 L654.8,571.8 L653.1,573.2 L651.2,574.8 L649.3,576.5 L647.4,578.3 L645.7,580.2 L644.3,582.1 L643.3,584.1 L642.4,586.3 L641.7,588.6 L641.2,590.9 L640.7,593.1 L640.1,595.4 L639.5,597.5 L638.8,599.5 L637.8,601.6 L636.8,603.8 L635.6,606.0 L634.5,608.1 L633.3,610.1 L632.3,611.9 L631.3,613.4 L630.5,614.5 Z"/>
<path d="M633.4,617.5 L634.5,616.8 L636.1,615.9 L638.0,614.9 L640.0,613.9 L642.2,612.8 L644.4,611.8 L646.5,610.9 L648.3,610.3 L650.1,609.8 L651.8,609.4 L653.5,609.2 L655.2,609.0 L656.9,608.8 L658.7,608.7 L660.6,608.5 L662.6,608.3 L664.7,608.0 L667.1,607.7 L669.7,607.5 L672.2,607.2 L674.6,606.9 L676.8,606.7 L678.7,606.5 L680.0,606.3 L680.0,605.7 L678.6,605.8 L676.8,605.9 L674.5,606.0 L672.1,606.1 L669.6,606.3 L667.0,606.4 L664.6,606.6 L662.4,606.7 L660.5,606.8 L658.6,606.9 L656.8,606.9 L655.1,606.9 L653.3,607.0 L651.5,607.1 L649.6,607.4 L647.7,607.7 L645.6,608.3 L643.3,609.0 L641.0,609.9 L638.7,610.8 L636.5,611.7 L634.5,612.5 L632.9,613.2 L631.6,613.5 Z"/>
<path d="M658.6,644.4 L659.3,643.7 L660.4,643.0 L661.7,642.1 L663.1,641.2 L664.6,640.2 L666.1,639.1 L667.5,638.1 L668.8,637.1 L669.9,636.1 L671.0,635.1 L672.1,634.1 L673.2,633.0 L674.2,632.0 L675.1,630.8 L675.9,629.6 L676.7,628.4 L677.3,627.0 L677.8,625.4 L678.2,623.8 L678.5,622.1 L678.8,620.5 L679.0,619.1 L679.2,617.9 L679.3,617.1 L678.7,616.9 L678.5,617.8 L678.2,619.0 L677.9,620.4 L677.5,621.9 L677.1,623.5 L676.6,625.0 L676.0,626.4 L675.3,627.6 L674.6,628.7 L673.7,629.7 L672.8,630.6 L671.8,631.5 L670.7,632.4 L669.5,633.3 L668.4,634.1 L667.2,634.9 L665.9,635.8 L664.5,636.6 L663.0,637.5 L661.4,638.3 L659.9,639.1 L658.5,639.7 L657.3,640.3 L656.4,640.6 Z"/>
<path d="M664.1,673.6 L665.0,674.6 L666.0,675.8 L667.1,677.4 L668.3,679.1 L669.6,681.1 L671.0,683.2 L672.5,685.5 L674.1,688.0 L675.9,690.9 L678.0,694.3 L680.2,698.1 L682.5,702.0 L684.7,705.8 L686.8,709.2 L688.5,712.1 L689.7,714.1 L690.3,713.9 L689.1,711.7 L687.6,708.7 L685.7,705.2 L683.6,701.4 L681.5,697.4 L679.4,693.5 L677.5,690.0 L675.9,687.0 L674.5,684.4 L673.2,682.0 L672.0,679.7 L670.8,677.6 L669.8,675.7 L669.0,674.0 L668.3,672.6 L667.9,671.4 Z"/>
<path d="M641.2,715.7 L639.9,717.0 L638.2,718.6 L636.0,720.4 L633.6,722.4 L631.2,724.4 L628.7,726.3 L626.5,727.9 L624.5,729.1 L622.8,729.9 L621.0,730.6 L619.3,731.1 L617.6,731.4 L616.0,731.6 L614.6,731.8 L613.4,732.0 L612.5,732.2 L612.5,732.8 L613.5,732.8 L614.7,732.8 L616.1,732.7 L617.7,732.7 L619.5,732.5 L621.4,732.2 L623.4,731.7 L625.5,730.9 L627.7,729.8 L630.1,728.3 L632.8,726.6 L635.4,724.8 L638.0,723.0 L640.3,721.4 L642.3,720.1 L643.8,719.3 Z"/>
<path d="M640.9,719.0 L641.8,719.7 L642.9,720.6 L644.2,721.8 L645.5,723.1 L647.0,724.5 L648.4,726.0 L649.7,727.4 L650.9,728.8 L652.0,730.1 L652.9,731.5 L653.7,733.0 L654.6,734.5 L655.5,736.1 L656.6,737.6 L657.9,739.1 L659.5,740.6 L661.4,742.0 L663.8,743.4 L666.3,744.8 L669.0,746.2 L671.6,747.5 L673.9,748.6 L675.9,749.6 L677.4,750.3 L677.6,749.7 L676.2,748.9 L674.3,747.9 L672.0,746.7 L669.5,745.3 L666.9,743.8 L664.5,742.3 L662.3,740.8 L660.5,739.4 L659.2,738.0 L658.1,736.6 L657.2,735.1 L656.4,733.5 L655.7,732.0 L654.9,730.4 L654.1,728.8 L653.1,727.2 L651.9,725.6 L650.6,724.0 L649.3,722.4 L648.0,720.9 L646.7,719.4 L645.6,718.1 L644.7,716.9 L644.1,716.0 Z"/>
<path d="M637.2,765.8 L638.2,764.8 L639.6,763.6 L641.4,762.3 L643.3,760.8 L645.2,759.3 L647.2,758.0 L648.9,756.8 L650.4,755.9 L651.7,755.4 L653.0,755.0 L654.2,754.7 L655.4,754.6 L656.5,754.5 L657.5,754.5 L658.3,754.4 L659.0,754.3 L659.0,753.7 L658.3,753.6 L657.5,753.5 L656.5,753.4 L655.4,753.3 L654.1,753.3 L652.7,753.3 L651.2,753.6 L649.6,754.1 L647.8,754.8 L645.9,755.8 L643.8,757.0 L641.6,758.3 L639.5,759.6 L637.6,760.8 L636.0,761.7 L634.8,762.2 Z"/>
<path d="M636.0,761.8 L634.8,762.0 L633.0,762.1 L630.9,762.1 L628.5,762.1 L626.1,762.2 L623.7,762.3 L621.6,762.4 L619.8,762.7 L618.5,763.0 L617.4,763.4 L616.5,763.8 L615.8,764.2 L615.1,764.8 L614.4,765.3 L613.4,766.0 L612.1,766.8 L610.3,767.9 L608.1,769.2 L605.6,770.7 L603.0,772.3 L600.5,773.8 L598.2,775.2 L596.2,776.4 L594.9,777.2 L595.1,777.8 L596.6,777.0 L598.6,775.9 L601.0,774.6 L603.5,773.2 L606.2,771.7 L608.7,770.3 L611.0,769.1 L612.9,768.2 L614.3,767.4 L615.4,766.8 L616.2,766.4 L616.9,766.0 L617.5,765.8 L618.1,765.6 L619.0,765.4 L620.2,765.3 L621.8,765.2 L623.8,765.2 L626.1,765.3 L628.4,765.4 L630.7,765.6 L632.9,765.8 L634.7,766.0 L636.0,766.2 Z"/>
<path d="M634.0,763.1 L633.8,764.3 L633.3,765.8 L632.6,767.5 L631.8,769.5 L631.0,771.6 L630.2,773.7 L629.6,775.7 L629.0,777.7 L628.6,779.7 L628.3,781.8 L628.0,783.9 L627.7,786.0 L627.5,788.0 L627.4,789.8 L627.3,791.3 L627.2,792.5 L627.8,792.5 L628.0,791.4 L628.3,789.9 L628.7,788.2 L629.0,786.2 L629.4,784.2 L629.9,782.1 L630.4,780.1 L631.0,778.3 L631.7,776.5 L632.5,774.6 L633.5,772.6 L634.5,770.7 L635.5,768.9 L636.4,767.3 L637.3,765.9 L638.0,764.9 Z"/>
<path d="M628.7,805.7 L628.1,806.4 L627.1,807.2 L625.9,808.2 L624.5,809.3 L623.1,810.4 L621.6,811.6 L620.3,812.8 L619.1,814.1 L618.1,815.2 L617.2,816.3 L616.4,817.4 L615.6,818.6 L614.8,819.8 L614.0,821.2 L613.0,822.7 L611.9,824.6 L610.4,826.9 L608.7,829.6 L606.8,832.7 L604.8,835.8 L602.9,838.9 L601.2,841.7 L599.8,844.1 L598.7,845.8 L599.3,846.2 L600.4,844.5 L601.9,842.2 L603.7,839.4 L605.7,836.4 L607.8,833.3 L609.8,830.3 L611.6,827.6 L613.1,825.4 L614.4,823.7 L615.5,822.2 L616.4,820.9 L617.3,819.8 L618.1,818.8 L619.0,817.8 L619.9,816.9 L620.9,815.9 L622.1,814.9 L623.5,813.9 L624.9,812.9 L626.4,812.0 L627.9,811.1 L629.2,810.3 L630.3,809.7 L631.3,809.3 Z"/>
<path d="M628.0,808.5 L628.7,809.4 L629.5,810.7 L630.4,812.2 L631.4,813.9 L632.4,815.6 L633.3,817.4 L634.1,819.0 L634.8,820.4 L635.2,821.7 L635.7,822.7 L636.0,823.6 L636.3,824.6 L636.5,825.5 L636.6,826.7 L636.7,828.2 L636.7,830.0 L636.7,832.3 L636.5,835.2 L636.2,838.4 L635.8,841.8 L635.5,845.1 L635.1,848.1 L634.9,850.6 L634.7,852.5 L635.3,852.5 L635.6,850.7 L636.0,848.2 L636.4,845.2 L636.9,841.9 L637.3,838.6 L637.7,835.3 L638.1,832.4 L638.3,830.0 L638.4,828.2 L638.4,826.6 L638.4,825.3 L638.3,824.2 L638.1,823.1 L637.9,822.0 L637.6,820.9 L637.2,819.6 L636.7,817.9 L636.0,816.1 L635.2,814.3 L634.4,812.4 L633.6,810.6 L632.8,808.9 L632.3,807.6 L632.0,806.5 Z"/>
</g>
<g fill="#559c78" stroke-width="1.5">
<ellipse cx="395.5" cy="292.6" rx="6.8" ry="5.8"/>
<ellipse cx="439.0" cy="325.0" rx="6.8" ry="5.8"/>
<ellipse cx="424.0" cy="347.5" rx="6.8" ry="5.8"/>
<ellipse cx="466.0" cy="341.0" rx="6.8" ry="5.8"/>
<ellipse cx="397.0" cy="456.0" rx="6.8" ry="5.8"/>
<ellipse cx="399.0" cy="486.0" rx="6.8" ry="5.8"/>
<ellipse cx="581.0" cy="424.0" rx="6.8" ry="5.8"/>
<ellipse cx="556.0" cy="479.0" rx="6.8" ry="5.8"/>
<ellipse cx="579.0" cy="539.0" rx="6.8" ry="5.8"/>
<ellipse cx="632.5" cy="615.5" rx="6.8" ry="5.8"/>
<ellipse cx="657.5" cy="642.5" rx="6.8" ry="5.8"/>
<ellipse cx="666.0" cy="672.5" rx="6.8" ry="5.8"/>
<ellipse cx="642.5" cy="717.5" rx="6.8" ry="5.8"/>
<ellipse cx="636.0" cy="764.0" rx="6.8" ry="5.8"/>
<ellipse cx="630.0" cy="807.5" rx="6.8" ry="5.8"/>
</g></g>
<!--LYMPH_END-->

<!-- blue dashes -->
<g stroke="#6fa4dd" stroke-width="5.2" stroke-linecap="round" fill="none">
<path d="M616,479 L611,494"/><path d="M604,517 L591,544"/><path d="M580,565 L562,590"/><path d="M547,609 L529,631"/><path d="M512,649 L491,670"/><path d="M472,686 L450,705"/><path d="M430,719 L405,736"/><path d="M385,747 L370,755"/>
</g>
<!--ORGANS-->
</g>
<g id="outlineG" mask="url(#fadeL)">
<!-- outlines -->
<g fill="none" stroke="#b18978" stroke-width="5.4" stroke-linecap="round" stroke-linejoin="round">
<path d="M146,135 C150,165 166,170 164,185 C160,200 148,210 151,222 C154,238 165,242 176,242 C205,240 235,232 255,230 C272,229 276,240 275,255 L270,312 C268,326 262,331 252,336 C215,352 185,370 151,383 C125,392 100,390 76,393 C45,398 20,415 -3,433"/>
<path d="M905,1200 C895,1120 880,1050 874,1030 C860,990 850,960 845,940 C830,850 815,700 800,600 C790,550 780,510 772,494 C760,462 735,425 707,413 C685,403 665,396 646,395 C630,394 618,393 606,390 C570,375 530,345 505,322 C490,308 472,300 470,292 L467,226 C467,200 470,175 475,135"/>
<path d="M-3,1140 L15,1087 C20,1070 25,1040 27,1012 L27,962 C27,945 38,930 45,900 C50,870 58,820 64,772 C68,810 78,860 85,900 C90,925 95,950 100,975 C102,990 102,1005 102,1025 C103,1050 95,1080 87,1112 C85,1130 80,1150 77,1182"/>
<path d="M642,1175 C638,1150 633,1125 627,1100 C622,1080 618,1050 617,1025 C616,1010 617,995 620,975 C622,955 628,930 635,900 C642,870 652,820 657,772 C665,830 685,900 693,935 C697,960 698,1010 700,1050 C703,1072 709,1098 715,1116 C722,1135 730,1158 738,1180"/>
</g>
<path d="M248,214 C300,203 380,178 393,156" fill="none" stroke="#c9a598" stroke-width="3.5" stroke-linecap="round" opacity="0.85"/>
<!--BODY-->
</g>
</g>

<!-- ================= FAN ================= -->
<path d="M599,511 L912,328 L1138,665 L968,1033 L610,930 L604,900 C607,885 610,870 612,855 C615,835 619,815 623,790 C629,755 632,720 631,690 C630,655 625,625 619.6,600 C617,588 612,572 608,555 C606,540 603,525 599,511 Z" fill="url(#fanG)"/>

<!-- ================= CIRCLE ================= -->
<circle cx="1138" cy="665" r="399" fill="#fff" stroke="#000" stroke-width="9.5"/>
<g id="inset" clip-path="url(#insetClip)">
<!--INSET_START-->
<!-- INSET LUNG -->
<path d="M1366.0,520.0 C1369.2,531.7 1380.0,565.8 1385.0,590.0 C1390.0,614.2 1393.5,633.3 1396.0,665.0 C1398.5,696.7 1400.7,747.5 1400.0,780.0 C1399.3,812.5 1396.0,835.8 1392.0,860.0 C1388.0,884.2 1378.7,914.2 1376.0,925.0" fill="none" stroke="#f6d0ca" stroke-width="40" stroke-linecap="round" opacity="0.5" filter="url(#b10)"/>
<path d="M1357.0,505.0 C1359.3,510.7 1361.3,521.7 1364.0,530.0 C1366.7,538.3 1369.7,545.0 1373.0,555.0 C1376.3,565.0 1381.0,578.3 1384.0,590.0 C1387.0,601.7 1389.3,612.5 1391.0,625.0 C1392.7,637.5 1393.3,651.7 1394.0,665.0 C1394.7,678.3 1394.7,692.5 1395.0,705.0 C1395.3,717.5 1395.8,727.5 1396.0,740.0 C1396.2,752.5 1396.7,767.2 1396.0,780.0 C1395.3,792.8 1393.7,803.7 1392.0,817.0 C1390.3,830.3 1388.3,847.0 1386.0,860.0 C1383.7,873.0 1381.0,883.3 1378.0,895.0 C1375.0,906.7 1375.0,924.8 1368.0,930.0 C1361.0,935.2 1346.3,929.2 1336.0,926.0 C1325.7,922.8 1316.0,915.8 1306.0,911.0 C1296.0,906.2 1286.0,901.0 1276.0,897.0 C1266.0,893.0 1252.7,889.5 1246.0,887.0 C1239.3,884.5 1241.8,884.5 1236.0,882.0 C1230.2,879.5 1219.3,875.3 1211.0,872.0 C1202.7,868.7 1191.5,865.3 1186.0,862.0 C1180.5,858.7 1179.7,856.5 1178.0,852.0 C1176.3,847.5 1176.5,843.7 1176.0,835.0 C1175.5,826.3 1175.5,811.7 1175.0,800.0 C1174.5,788.3 1173.8,774.7 1173.0,765.0 C1172.2,755.3 1170.8,748.0 1170.0,742.0 C1169.2,736.0 1169.7,732.3 1168.0,729.0 C1166.3,725.7 1163.3,725.2 1160.0,722.0 C1156.7,718.8 1152.2,715.3 1148.0,710.0 C1143.8,704.7 1138.7,697.2 1135.0,690.0 C1131.3,682.8 1127.8,675.3 1126.0,667.0 C1124.2,658.7 1124.5,650.3 1124.0,640.0 C1123.5,629.7 1122.5,615.0 1123.0,605.0 C1123.5,595.0 1125.7,587.0 1127.0,580.0 C1128.3,573.0 1128.8,569.7 1131.0,563.0 C1133.2,556.3 1136.3,547.7 1140.0,540.0 C1143.7,532.3 1147.5,526.2 1153.0,517.0 C1158.5,507.8 1168.7,493.7 1173.0,485.0 C1177.3,476.3 1177.8,472.2 1179.0,465.0 C1180.2,457.8 1180.5,451.2 1180.0,442.0 C1179.5,432.8 1177.2,419.5 1176.0,410.0 C1174.8,400.5 1172.7,393.3 1173.0,385.0 C1173.3,376.7 1175.2,366.2 1178.0,360.0 C1180.8,353.8 1185.8,350.7 1190.0,348.0 C1194.2,345.3 1198.8,344.3 1203.0,344.0 C1207.2,343.7 1209.5,343.8 1215.0,346.0 C1220.5,348.2 1228.5,351.3 1236.0,357.0 C1243.5,362.7 1251.7,371.2 1260.0,380.0 C1268.3,388.8 1277.7,400.0 1286.0,410.0 C1294.3,420.0 1301.7,429.2 1310.0,440.0 C1318.3,450.8 1329.3,465.7 1336.0,475.0 C1342.7,484.3 1346.5,491.0 1350.0,496.0 C1353.5,501.0 1354.7,499.3 1357.0,505.0 Z" fill="url(#inLowG)"/>
<g clip-path="url(#inLowClip)">
<path d="M1176,740 L1176,860 L1250,890 L1250,860 L1200,830 L1195,760 Z" fill="#d99aae" opacity="0.55" filter="url(#b10)"/>
<path d="M1330,600 C1370,640 1385,700 1370,740 C1350,790 1320,830 1290,850 L1400,850 L1400,560 Z" fill="#e49aa6" opacity="0.55" filter="url(#b10)"/>
<ellipse cx="1270" cy="740" rx="55" ry="60" fill="#ecc6cd" opacity="0.7" filter="url(#b16)"/>
</g>
<path d="M1168.0,729.0 C1168.3,731.2 1169.2,736.0 1170.0,742.0 C1170.8,748.0 1172.2,755.3 1173.0,765.0 C1173.8,774.7 1174.5,788.3 1175.0,800.0 C1175.5,811.7 1175.5,826.3 1176.0,835.0 C1176.5,843.7 1176.3,847.5 1178.0,852.0 C1179.7,856.5 1180.5,858.7 1186.0,862.0 C1191.5,865.3 1202.7,868.7 1211.0,872.0 C1219.3,875.3 1230.2,879.5 1236.0,882.0 C1241.8,884.5 1239.3,884.2 1246.0,887.0 C1252.7,889.8 1266.0,894.7 1276.0,899.0 C1286.0,903.3 1301.0,910.7 1306.0,913.0" fill="none" stroke="#d78ba2" stroke-width="2.4"/>
<g clip-path="url(#inUpClip)">
<rect x="1100" y="330" width="300" height="420" fill="#da99ae"/>
<path d="M1263.0,383.0 C1265.3,390.5 1274.3,408.8 1277.0,428.0 C1279.7,447.2 1281.0,473.0 1279.0,498.0 C1277.0,523.0 1272.0,553.0 1265.0,578.0 C1258.0,603.0 1246.7,628.0 1237.0,648.0 C1227.3,668.0 1212.0,689.7 1207.0,698.0" fill="none" stroke="#cd859e" stroke-width="48" stroke-linecap="round" opacity="0.8" filter="url(#b10)"/>
<path d="M1239.0,408.0 C1238.0,414.7 1235.3,433.0 1233.0,448.0 C1230.7,463.0 1228.3,476.3 1225.0,498.0 C1221.7,519.7 1218.0,553.0 1213.0,578.0 C1208.0,603.0 1201.7,625.5 1195.0,648.0 C1188.3,670.5 1176.7,702.2 1173.0,713.0" fill="none" stroke="#ecbbc5" stroke-width="56" stroke-linecap="round" opacity="0.9" filter="url(#b16)"/>
<path d="M1239.0,408.0 C1238.0,414.7 1235.3,433.0 1233.0,448.0 C1230.7,463.0 1228.3,476.3 1225.0,498.0 C1221.7,519.7 1218.0,553.0 1213.0,578.0 C1208.0,603.0 1201.7,625.5 1195.0,648.0 C1188.3,670.5 1176.7,702.2 1173.0,713.0" fill="none" stroke="#eebfc8" stroke-width="22" stroke-linecap="round" opacity="0.7" filter="url(#b10)"/>
<path d="M1178.0,358.0 C1177.7,368.0 1175.7,401.3 1176.0,418.0 C1176.3,434.7 1182.7,443.8 1180.0,458.0 C1177.3,472.2 1167.5,487.7 1160.0,503.0 C1152.5,518.3 1140.7,534.2 1135.0,550.0 C1129.3,565.8 1127.5,580.0 1126.0,598.0 C1124.5,616.0 1122.0,638.8 1126.0,658.0 C1130.0,677.2 1146.0,703.8 1150.0,713.0" fill="none" stroke="#d596ab" stroke-width="14" opacity="0.65" filter="url(#b6)"/>
<ellipse cx="1210" cy="373" rx="45" ry="30" fill="#d590a8" opacity="0.6" filter="url(#b10)"/>
</g>
<path d="M1203.0,344.0 C1200.8,344.7 1194.2,345.3 1190.0,348.0 C1185.8,350.7 1180.8,353.8 1178.0,360.0 C1175.2,366.2 1173.3,376.7 1173.0,385.0 C1172.7,393.3 1174.8,400.5 1176.0,410.0 C1177.2,419.5 1179.5,432.8 1180.0,442.0 C1180.5,451.2 1180.2,457.8 1179.0,465.0 C1177.8,472.2 1177.3,476.3 1173.0,485.0 C1168.7,493.7 1158.5,507.8 1153.0,517.0 C1147.5,526.2 1143.7,532.3 1140.0,540.0 C1136.3,547.7 1133.2,556.3 1131.0,563.0 C1128.8,569.7 1128.3,573.0 1127.0,580.0 C1125.7,587.0 1123.5,595.0 1123.0,605.0 C1122.5,615.0 1123.5,629.7 1124.0,640.0 C1124.5,650.3 1124.2,658.7 1126.0,667.0 C1127.8,675.3 1131.3,682.8 1135.0,690.0 C1138.7,697.2 1143.8,704.7 1148.0,710.0 C1152.2,715.3 1156.7,718.8 1160.0,722.0 C1163.3,725.2 1166.7,727.8 1168.0,729.0" fill="none" stroke="#c8627f" stroke-width="3" stroke-linejoin="round"/>
<path d="M1203.0,344.0 C1205.0,344.3 1209.5,343.8 1215.0,346.0 C1220.5,348.2 1228.5,351.3 1236.0,357.0 C1243.5,362.7 1251.7,371.2 1260.0,380.0 C1268.3,388.8 1277.7,400.0 1286.0,410.0 C1294.3,420.0 1301.7,429.2 1310.0,440.0 C1318.3,450.8 1329.3,465.7 1336.0,475.0 C1342.7,484.3 1346.5,491.0 1350.0,496.0 C1353.5,501.0 1355.8,503.5 1357.0,505.0" fill="none" stroke="#c8627f" stroke-width="3" stroke-linejoin="round"/>
<path d="M1361.0,520.0 C1362.0,520.8 1364.0,534.2 1366.0,540.0 C1368.0,545.8 1370.7,549.7 1373.0,555.0 C1375.3,560.3 1377.8,565.8 1380.0,572.0 C1382.2,578.2 1384.3,585.3 1386.0,592.0 C1387.7,598.7 1388.8,604.0 1390.0,612.0 C1391.2,620.0 1392.3,630.8 1393.0,640.0 C1393.7,649.2 1393.8,656.2 1394.0,667.0 C1394.2,677.8 1393.8,694.5 1394.0,705.0 C1394.2,715.5 1394.7,717.5 1395.0,730.0 C1395.3,742.5 1396.5,765.5 1396.0,780.0 C1395.5,794.5 1393.7,803.7 1392.0,817.0 C1390.3,830.3 1388.7,846.2 1386.0,860.0 C1383.3,873.8 1378.5,889.2 1376.0,900.0 C1373.5,910.8 1372.7,919.7 1371.0,925.0 C1369.3,930.3 1371.8,931.7 1366.0,932.0 C1360.2,932.3 1346.0,930.3 1336.0,927.0 C1326.0,923.7 1316.0,917.0 1306.0,912.0 C1296.0,907.0 1286.0,902.8 1276.0,897.0 C1266.0,891.2 1252.3,883.2 1246.0,877.0 C1239.7,870.8 1238.8,865.7 1238.0,860.0 C1237.2,854.3 1238.7,845.2 1241.0,843.0 C1243.3,840.8 1248.7,846.8 1252.0,847.0 C1255.3,847.2 1258.0,843.7 1261.0,844.0 C1264.0,844.3 1267.2,848.8 1270.0,849.0 C1272.8,849.2 1275.3,846.0 1278.0,845.0 C1280.7,844.0 1283.5,844.2 1286.0,843.0 C1288.5,841.8 1290.7,838.5 1293.0,838.0 C1295.3,837.5 1297.8,840.8 1300.0,840.0 C1302.2,839.2 1304.3,835.3 1306.0,833.0 C1307.7,830.7 1308.8,828.2 1310.0,826.0 C1311.2,823.8 1312.0,823.0 1313.0,820.0 C1314.0,817.0 1314.7,811.8 1316.0,808.0 C1317.3,804.2 1319.2,800.2 1321.0,797.0 C1322.8,793.8 1324.5,791.7 1327.0,789.0 C1329.5,786.3 1333.8,784.2 1336.0,781.0 C1338.2,777.8 1338.3,773.5 1340.0,770.0 C1341.7,766.5 1344.2,763.0 1346.0,760.0 C1347.8,757.0 1349.3,754.7 1351.0,752.0 C1352.7,749.3 1354.3,746.5 1356.0,744.0 C1357.7,741.5 1358.7,739.2 1361.0,737.0 C1363.3,734.8 1366.7,733.0 1370.0,731.0 C1373.3,729.0 1378.0,727.7 1381.0,725.0 C1384.0,722.3 1386.5,719.2 1388.0,715.0 C1389.5,710.8 1389.8,705.0 1390.0,700.0 C1390.2,695.0 1388.8,690.3 1389.0,685.0 C1389.2,679.7 1391.8,672.2 1391.0,668.0 C1390.2,663.8 1386.2,662.2 1384.0,660.0 C1381.8,657.8 1380.3,657.0 1378.0,655.0 C1375.7,653.0 1372.5,650.2 1370.0,648.0 C1367.5,645.8 1365.0,643.8 1363.0,642.0 C1361.0,640.2 1359.2,638.8 1358.0,637.0 C1356.8,635.2 1355.3,633.2 1356.0,631.0 C1356.7,628.8 1359.7,626.2 1362.0,624.0 C1364.3,621.8 1368.3,621.2 1370.0,618.0 C1371.7,614.8 1372.2,609.7 1372.0,605.0 C1371.8,600.3 1369.7,595.0 1369.0,590.0 C1368.3,585.0 1368.8,581.7 1368.0,575.0 C1367.2,568.3 1365.3,556.7 1364.0,550.0 C1362.7,543.3 1360.5,540.0 1360.0,535.0 C1359.5,530.0 1360.0,519.2 1361.0,520.0 Z" fill="#e9d3ae" stroke="#dcc194" stroke-width="2.6" stroke-linejoin="round"/>
<path d="M1198.0,735.0 C1198.3,733.8 1206.2,741.7 1210.0,745.0 C1213.8,748.3 1217.3,752.0 1221.0,755.0 C1224.7,758.0 1228.7,760.7 1232.0,763.0 C1235.3,765.3 1238.3,767.0 1241.0,769.0 C1243.7,771.0 1245.5,773.5 1248.0,775.0 C1250.5,776.5 1253.7,776.5 1256.0,778.0 C1258.3,779.5 1260.3,781.7 1262.0,784.0 C1263.7,786.3 1265.8,789.3 1266.0,792.0 C1266.2,794.7 1263.0,797.7 1263.0,800.0 C1263.0,802.3 1266.5,803.8 1266.0,806.0 C1265.5,808.2 1261.7,811.0 1260.0,813.0 C1258.3,815.0 1257.8,816.8 1256.0,818.0 C1254.2,819.2 1250.7,818.7 1249.0,820.0 C1247.3,821.3 1247.0,823.7 1246.0,826.0 C1245.0,828.3 1243.8,831.3 1243.0,834.0 C1242.2,836.7 1242.2,841.3 1241.0,842.0 C1239.8,842.7 1237.3,840.8 1236.0,838.0 C1234.7,835.2 1233.8,829.3 1233.0,825.0 C1232.2,820.7 1232.0,816.7 1231.0,812.0 C1230.0,807.3 1228.3,801.5 1227.0,797.0 C1225.7,792.5 1224.8,789.5 1223.0,785.0 C1221.2,780.5 1218.5,775.5 1216.0,770.0 C1213.5,764.5 1211.0,757.8 1208.0,752.0 C1205.0,746.2 1197.7,736.2 1198.0,735.0 Z" fill="#e9d3ae" stroke="#dcc194" stroke-width="2.4" stroke-linejoin="round"/>
<path d="M1285.0,868.0 q3,-4 7,-1 q3,-3 6,-5 M1310.0,880.0 q3,-4 7,-1 q3,-3 6,-5 M1330.0,860.0 q-3,-4 -7,-1 q-3,3 -6,5 M1345.0,895.0 q3,-4 7,-1 q3,3 6,5 M1355.0,830.0 q3,-4 7,-1 q3,-3 6,-5 M1360.0,870.0 q-3,-4 -7,-1 q-3,3 -6,5 M1340.0,820.0 q3,-4 7,-1 q3,-3 6,-5 M1300.0,855.0 q-3,-4 -7,-1 q-3,3 -6,5 M1368.0,790.0 q3,-4 7,-1 q3,-3 6,-5 M1372.0,690.0 q3,-4 7,-1 q3,3 6,5 M1375.0,760.0 q-3,-4 -7,-1 q-3,-3 -6,-5 M1240.0,795.0 q3,-4 7,-1 q3,3 6,5 M1250.0,808.0 q-3,-4 -7,-1 q-3,-3 -6,-5 M1235.0,780.0 q-3,-4 -7,-1 q-3,3 -6,5 M1325.0,905.0 q-3,-4 -7,-1 q-3,-3 -6,-5 M1350.0,915.0 q3,-4 7,-1 q3,3 6,5 M1265.0,880.0 q3,-4 7,-1 q3,-3 6,-5 M1378.0,850.0 q-3,-4 -7,-1 q-3,3 -6,5 M1366.0,636.0 q-3,-4 -7,-1 q-3,3 -6,5 M1380.0,600.0 q-3,-4 -7,-1 q-3,-3 -6,-5" fill="none" stroke="#d8bb8c" stroke-width="1.4" stroke-linecap="round" opacity="0.9"/>
<g stroke="#74a8de" stroke-width="5" stroke-linecap="round" fill="none">
<path d="M1372.0,476.0 L1368.0,490.0" opacity="1.00"/>
<path d="M1361.0,514.0 L1351.0,541.0" opacity="0.80"/>
<path d="M1344.0,555.0 L1330.0,577.0" opacity="0.80"/>
<path d="M1313.0,598.0 L1297.0,620.0" opacity="0.80"/>
<path d="M1279.0,644.0 L1262.0,664.0" opacity="0.80"/>
<path d="M1240.0,682.0 L1220.0,698.0" opacity="0.80"/>
<path d="M1198.0,714.0 L1176.0,730.0" opacity="0.80"/>
<path d="M1148.0,750.0 L1136.0,757.0" opacity="1.00"/>
</g>
<g fill="none" stroke="#79b59c" stroke-linecap="round" stroke-linejoin="round">
<g stroke-width="3.2">
<path d="M1382.0,620.0 L1408.5,646.0"/>
<path d="M1408.5,646.0 C1408.9,648.7 1409.6,656.8 1411.0,662.0 C1412.4,667.2 1416.0,674.9 1417.0,677.5"/>
<path d="M1382.0,620.0 C1381.0,625.8 1375.3,642.9 1376.0,655.0 C1376.7,667.1 1383.1,681.2 1386.0,692.5 C1388.9,703.8 1392.2,717.5 1393.5,722.5"/>
<path d="M1408.5,646.0 C1407.2,649.6 1403.1,658.5 1401.0,667.5 C1398.9,676.5 1397.2,690.8 1396.0,700.0 C1394.8,709.2 1393.9,718.8 1393.5,722.5"/>
<path d="M1417.0,677.5 C1415.6,679.6 1411.6,685.4 1408.5,690.0 C1405.4,694.6 1401.0,699.6 1398.5,705.0 C1396.0,710.4 1394.3,719.6 1393.5,722.5"/>
<path d="M1393.5,722.5 C1393.1,726.2 1392.1,737.1 1391.0,745.0 C1389.9,752.9 1387.7,765.8 1387.0,770.0"/>
<path d="M1387.0,770.0 C1386.5,773.3 1385.0,782.9 1384.0,790.0 C1383.0,797.1 1381.5,808.8 1381.0,812.5"/>
</g><g stroke="none" fill="#79b59c">
<path d="M1382.5,622.2 L1384.3,621.6 L1386.7,620.9 L1389.6,620.1 L1392.8,619.3 L1396.2,618.4 L1399.6,617.6 L1403.0,616.8 L1406.2,616.1 L1409.4,615.4 L1412.9,614.7 L1416.5,614.0 L1420.1,613.3 L1423.5,612.7 L1426.6,612.2 L1429.1,611.7 L1431.0,611.3 L1431.0,610.7 L1429.0,610.9 L1426.4,611.2 L1423.3,611.6 L1419.9,612.0 L1416.3,612.5 L1412.6,613.0 L1409.1,613.5 L1405.8,613.9 L1402.6,614.5 L1399.1,615.0 L1395.6,615.6 L1392.1,616.2 L1388.8,616.8 L1385.9,617.3 L1383.4,617.6 L1381.5,617.8 Z"/>
<path d="M1409.8,647.9 L1410.8,646.8 L1412.4,645.6 L1414.3,644.1 L1416.5,642.6 L1418.7,640.9 L1420.8,639.1 L1422.7,637.4 L1424.3,635.7 L1425.5,634.0 L1426.6,632.1 L1427.5,630.2 L1428.3,628.3 L1428.9,626.6 L1429.5,625.0 L1429.9,623.6 L1430.3,622.6 L1429.7,622.4 L1429.2,623.3 L1428.6,624.6 L1427.9,626.1 L1427.1,627.8 L1426.2,629.5 L1425.1,631.3 L1424.0,632.9 L1422.7,634.3 L1421.1,635.6 L1419.2,637.1 L1417.0,638.6 L1414.7,640.0 L1412.5,641.3 L1410.4,642.5 L1408.6,643.5 L1407.2,644.1 Z"/>
<path d="M1415.1,678.8 L1416.2,679.9 L1417.5,681.6 L1419.0,683.5 L1420.7,685.7 L1422.4,688.1 L1424.2,690.6 L1425.9,693.1 L1427.6,695.5 L1429.3,698.2 L1431.1,701.2 L1433.0,704.4 L1434.9,707.7 L1436.7,710.8 L1438.3,713.6 L1439.7,715.9 L1440.7,717.6 L1441.3,717.4 L1440.4,715.5 L1439.2,713.1 L1437.7,710.2 L1436.1,707.0 L1434.3,703.7 L1432.6,700.4 L1430.9,697.2 L1429.4,694.5 L1427.9,691.8 L1426.4,689.2 L1424.8,686.5 L1423.2,684.0 L1421.8,681.6 L1420.6,679.5 L1419.5,677.7 L1418.9,676.2 Z"/>
<path d="M1392.5,720.4 L1391.0,721.5 L1388.9,722.8 L1386.3,724.2 L1383.4,725.8 L1380.5,727.4 L1377.7,729.0 L1375.1,730.4 L1373.0,731.5 L1371.3,732.5 L1369.7,733.4 L1368.2,734.3 L1367.0,735.0 L1365.8,735.7 L1364.8,736.3 L1364.0,736.8 L1363.4,737.2 L1363.6,737.8 L1364.4,737.5 L1365.3,737.1 L1366.3,736.7 L1367.5,736.2 L1368.9,735.6 L1370.4,735.0 L1372.1,734.3 L1374.0,733.5 L1376.2,732.5 L1378.8,731.3 L1381.8,729.9 L1384.8,728.6 L1387.8,727.2 L1390.5,726.1 L1392.8,725.1 L1394.5,724.6 Z"/>
<path d="M1391.9,724.1 L1393.4,725.3 L1395.4,727.0 L1397.6,729.2 L1400.1,731.5 L1402.8,734.0 L1405.4,736.5 L1408.0,738.8 L1410.3,740.8 L1412.6,742.6 L1414.9,744.4 L1417.3,746.2 L1419.7,747.9 L1421.9,749.4 L1423.9,750.8 L1425.5,751.9 L1426.8,752.7 L1427.2,752.3 L1426.0,751.3 L1424.4,750.0 L1422.6,748.5 L1420.5,746.8 L1418.3,745.0 L1416.0,743.1 L1413.8,741.2 L1411.7,739.2 L1409.6,737.1 L1407.2,734.6 L1404.8,732.0 L1402.4,729.4 L1400.1,726.8 L1398.0,724.5 L1396.3,722.5 L1395.1,720.9 Z"/>
<path d="M1388.5,771.8 L1389.4,770.6 L1390.8,769.2 L1392.5,767.5 L1394.4,765.7 L1396.4,764.0 L1398.3,762.3 L1400.0,761.0 L1401.5,759.9 L1402.7,759.3 L1404.0,758.9 L1405.2,758.6 L1406.4,758.5 L1407.5,758.4 L1408.5,758.4 L1409.3,758.4 L1410.0,758.3 L1410.0,757.7 L1409.4,757.6 L1408.5,757.5 L1407.5,757.3 L1406.4,757.1 L1405.1,757.1 L1403.6,757.2 L1402.1,757.5 L1400.5,758.1 L1398.7,759.0 L1396.7,760.3 L1394.6,761.8 L1392.5,763.4 L1390.4,765.0 L1388.4,766.4 L1386.8,767.5 L1385.5,768.2 Z"/>
<path d="M1386.6,767.7 L1384.6,768.4 L1381.7,769.1 L1378.4,769.9 L1374.7,770.7 L1370.8,771.5 L1367.1,772.4 L1363.7,773.2 L1360.7,774.0 L1358.2,774.7 L1355.9,775.5 L1353.7,776.4 L1351.6,777.2 L1349.8,778.0 L1348.3,778.7 L1346.9,779.2 L1345.9,779.7 L1346.1,780.3 L1347.2,780.0 L1348.6,779.5 L1350.2,779.0 L1352.1,778.4 L1354.2,777.8 L1356.4,777.2 L1358.8,776.6 L1361.3,776.0 L1364.1,775.5 L1367.6,774.9 L1371.4,774.3 L1375.2,773.7 L1379.0,773.2 L1382.4,772.7 L1385.3,772.4 L1387.4,772.3 Z"/>
<path d="M1384.9,769.2 L1384.7,770.3 L1384.4,771.7 L1383.9,773.3 L1383.3,775.2 L1382.7,777.1 L1382.1,779.1 L1381.5,780.9 L1381.0,782.7 L1380.5,784.3 L1380.1,786.1 L1379.7,787.9 L1379.3,789.6 L1378.9,791.3 L1378.6,792.7 L1378.4,794.0 L1378.2,794.9 L1378.8,795.1 L1379.1,794.2 L1379.6,793.0 L1380.0,791.6 L1380.6,790.0 L1381.2,788.3 L1381.8,786.6 L1382.4,784.9 L1383.0,783.3 L1383.7,781.7 L1384.5,780.0 L1385.3,778.1 L1386.2,776.3 L1387.0,774.6 L1387.8,773.0 L1388.5,771.8 L1389.1,770.8 Z"/>
<path d="M1379.5,810.7 L1378.1,812.2 L1376.1,814.1 L1373.6,816.2 L1370.8,818.6 L1367.9,821.2 L1365.1,823.9 L1362.4,826.6 L1360.2,829.3 L1358.2,832.2 L1356.3,835.4 L1354.5,838.7 L1352.9,842.0 L1351.4,845.2 L1350.1,848.1 L1349.1,850.6 L1348.2,852.4 L1348.8,852.6 L1349.8,850.9 L1351.0,848.5 L1352.5,845.7 L1354.1,842.6 L1355.9,839.4 L1357.8,836.2 L1359.8,833.3 L1361.8,830.7 L1364.1,828.3 L1366.8,825.8 L1369.8,823.4 L1372.8,821.0 L1375.7,818.9 L1378.4,817.0 L1380.7,815.4 L1382.5,814.3 Z"/>
<path d="M1378.8,813.2 L1379.5,814.4 L1380.2,816.0 L1381.0,818.0 L1381.9,820.2 L1382.7,822.5 L1383.6,825.0 L1384.3,827.6 L1384.9,830.2 L1385.5,833.1 L1386.0,836.4 L1386.5,840.0 L1386.9,843.7 L1387.3,847.2 L1387.6,850.4 L1387.9,853.1 L1388.2,855.0 L1388.8,855.0 L1388.7,853.0 L1388.6,850.3 L1388.4,847.1 L1388.2,843.5 L1388.0,839.9 L1387.7,836.2 L1387.4,832.8 L1387.1,829.8 L1386.6,827.1 L1386.1,824.4 L1385.4,821.7 L1384.8,819.2 L1384.2,816.9 L1383.7,814.9 L1383.3,813.2 L1383.2,811.8 Z"/>
</g><g fill="#8dbfa6" stroke-width="1.4">
<ellipse cx="1382.0" cy="620.0" rx="7.5" ry="6.2"/>
<ellipse cx="1408.5" cy="646.0" rx="7.5" ry="6.2"/>
<ellipse cx="1417.0" cy="677.5" rx="7.5" ry="6.2"/>
<ellipse cx="1393.5" cy="722.5" rx="7.5" ry="6.2"/>
<ellipse cx="1387.0" cy="770.0" rx="7.5" ry="6.2"/>
<ellipse cx="1381.0" cy="812.5" rx="7.5" ry="6.2"/>
</g></g>
<!--INSET_END--><!--INSET-->
</g>

<!-- ================= TEXT ================= -->

<text class="ttl" x="333" y="86" font-size="63.5" textLength="922" lengthAdjust="spacingAndGlyphs" fill="#000">Pleurectomy Decortication (P/D)</text>
<text x="938" y="231" font-size="61" textLength="398" lengthAdjust="spacingAndGlyphs" fill="#000">REMOVAL OF:</text>

<g fill="none" stroke-linejoin="miter" stroke-linecap="butt">
  <path d="M805,508.6 H1134 L1377,564" stroke="#fff" stroke-width="9"/>
  <path d="M760,723.2 H1135 L1251,774" stroke="#fff" stroke-width="9"/>
  <path d="M847,916.3 H1202 L1302,781" stroke="#fff" stroke-width="9"/>
  <path d="M805,508.6 H1134 L1377,564" stroke="#231f20" stroke-width="4.6"/>
  <path d="M760,723.2 H1135 L1251,774" stroke="#231f20" stroke-width="4.6"/>
  <path d="M847,916.3 H1202 L1302,781" stroke="#231f20" stroke-width="4.6"/>
</g>
<g fill="#fff" stroke="#231f20" stroke-width="2.2">
  <circle cx="1377" cy="564" r="8" stroke="#fff" stroke-width="4"/>
  <circle cx="1251" cy="774" r="8" stroke="#fff" stroke-width="4"/>
  <circle cx="1302" cy="780" r="8" stroke="#fff" stroke-width="4"/>
  <circle cx="1377" cy="564" r="5.6"/>
  <circle cx="1251" cy="774" r="5.6"/>
  <circle cx="1302" cy="780" r="5.6"/>
</g>
<text x="815" y="492.3" font-size="44" textLength="303" lengthAdjust="spacingAndGlyphs" fill="#000">Visible Tumors</text>
<text x="767.5" y="705.5" font-size="44" textLength="349" lengthAdjust="spacingAndGlyphs" fill="#000">Abnormal Tissue</text>
<text x="857" y="898.6" font-size="44" textLength="317" lengthAdjust="spacingAndGlyphs" fill="#000">Affected Pleura</text>

<!-- logo -->
<text x="1301" y="1282.4" font-size="38.5" textLength="152.5" lengthAdjust="spacingAndGlyphs" fill="#231f20">Asbestos</text>
<circle cx="1465.6" cy="1279.3" r="7.9" fill="#f7941d"/>
<path d="M1461.2,1279.3 h8.8 M1465.6,1274.9 v8.8" stroke="#fff" stroke-width="3" fill="none"/>
<text x="1476.5" y="1282.4" font-size="29.5" textLength="60.5" lengthAdjust="spacingAndGlyphs" fill="#231f20">com</text>
<circle cx="1542" cy="1280" r="3.4" fill="none" stroke="#555" stroke-width="0.7"/>
<text x="1540.3" y="1281.9" font-size="5" fill="#555">R</text>
<!--TEXT-->
</svg>
</body>
</html>
